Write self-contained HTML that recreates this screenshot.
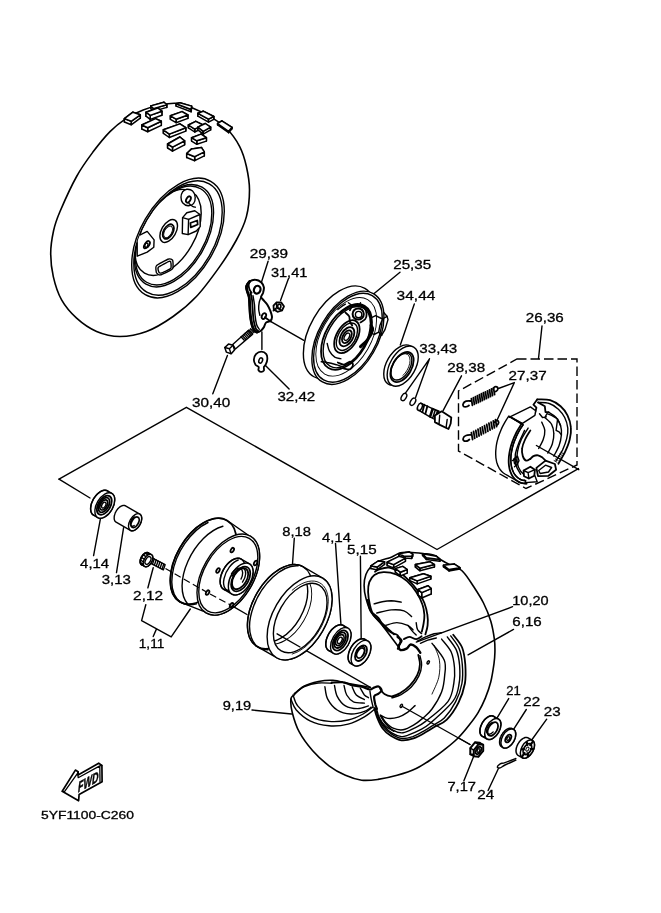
<!DOCTYPE html>
<html><head><meta charset="utf-8">
<style>
html,body{margin:0;padding:0;background:#fff;}
body{width:661px;height:913px;overflow:hidden;font-family:"Liberation Sans",sans-serif;}
svg{display:block;will-change:transform;}
.l{fill:none;stroke:#000;stroke-width:1.4;stroke-linecap:round;stroke-linejoin:round;}
.t{fill:none;stroke:#000;stroke-width:0.9;stroke-linecap:round;stroke-linejoin:round;}
.h{fill:none;stroke:#000;stroke-width:1.8;stroke-linecap:round;stroke-linejoin:round;}
.w{fill:#fff;stroke:#000;stroke-width:1.4;stroke-linecap:round;stroke-linejoin:round;}
.wb{fill:#fff;stroke:#000;stroke-width:1.5;stroke-linejoin:round;}
.wt{fill:#fff;stroke:#000;stroke-width:0.9;stroke-linejoin:round;}
.k{fill:#000;stroke:none;}
.f{fill:#fff;stroke:none;}
text{font-family:"Liberation Sans",sans-serif;font-size:13px;fill:#000;stroke:#000;stroke-width:0.3;}
</style></head><body>
<svg width="661" height="913" viewBox="0 0 661 913">
<rect width="661" height="913" fill="#fff"/>

<!-- ===== LABELS ===== -->
<g id="labels">
<text x="249.7" y="257.5" textLength="38.3" lengthAdjust="spacingAndGlyphs">29,39</text>
<text x="270.9" y="276.7" textLength="36.5" lengthAdjust="spacingAndGlyphs">31,41</text>
<text x="393.2" y="269.3" textLength="38" lengthAdjust="spacingAndGlyphs">25,35</text>
<text x="396.6" y="300" textLength="38.8" lengthAdjust="spacingAndGlyphs">34,44</text>
<text x="419.3" y="352.7" textLength="38" lengthAdjust="spacingAndGlyphs">33,43</text>
<text x="525.8" y="322.4" textLength="38" lengthAdjust="spacingAndGlyphs">26,36</text>
<text x="447.2" y="372" textLength="38" lengthAdjust="spacingAndGlyphs">28,38</text>
<text x="508.6" y="380.2" textLength="38" lengthAdjust="spacingAndGlyphs">27,37</text>
<text x="192.1" y="407.1" textLength="38.2" lengthAdjust="spacingAndGlyphs">30,40</text>
<text x="277.4" y="400.8" textLength="37.8" lengthAdjust="spacingAndGlyphs">32,42</text>
<text x="80.1" y="567.7" textLength="29" lengthAdjust="spacingAndGlyphs">4,14</text>
<text x="101.7" y="583.5" textLength="29.3" lengthAdjust="spacingAndGlyphs">3,13</text>
<text x="133.1" y="600.1" textLength="30" lengthAdjust="spacingAndGlyphs">2,12</text>
<text x="138.8" y="647.7" textLength="25.5" lengthAdjust="spacingAndGlyphs">1,11</text>
<text x="282.2" y="535.9" textLength="28.8" lengthAdjust="spacingAndGlyphs">8,18</text>
<text x="322.1" y="541.9" textLength="28.8" lengthAdjust="spacingAndGlyphs">4,14</text>
<text x="347" y="553.7" textLength="29.6" lengthAdjust="spacingAndGlyphs">5,15</text>
<text x="512.3" y="604.9" textLength="36.3" lengthAdjust="spacingAndGlyphs">10,20</text>
<text x="512.3" y="626" textLength="29.5" lengthAdjust="spacingAndGlyphs">6,16</text>
<text x="222.7" y="709.7" textLength="28.5" lengthAdjust="spacingAndGlyphs">9,19</text>
<text x="506.3" y="695" textLength="14.5" lengthAdjust="spacingAndGlyphs">21</text>
<text x="523.2" y="705.9" textLength="16.9" lengthAdjust="spacingAndGlyphs">22</text>
<text x="543.8" y="715.6" textLength="16.9" lengthAdjust="spacingAndGlyphs">23</text>
<text x="447.4" y="791.2" textLength="28.6" lengthAdjust="spacingAndGlyphs">7,17</text>
<text x="477.2" y="799.4" textLength="16.9" lengthAdjust="spacingAndGlyphs">24</text>
<text x="41" y="819" textLength="93" lengthAdjust="spacingAndGlyphs" style="font-size:11.5px">5YF1100-C260</text>
</g>

<!-- ===== LEADERS ===== -->
<g id="leaders" class="l">
<path d="M59,479.2 L186.4,407.3 L437,549.5 L578.4,468.6"/>
<path d="M59,479.2 L90,498"/>
</g>
<!-- ===== TOP TIRE ===== -->
<g id="tire-top">
<path class="l" style="stroke-width:1.6" d="M60,211.5C63.9,202.4 71,186.5 76.6,176.5C82.1,166.5 87.7,159.1 93.3,151.6C98.9,144.1 104.7,137 110,131.6C115.3,126.2 119.4,122.9 124.9,119.3C130.4,115.7 137.4,112.4 143.2,110C149,107.6 154.2,106.1 159.8,105C165.4,103.9 170.9,102.8 176.5,103.3C182.1,103.8 187.5,106.1 193.1,108.3C198.7,110.5 204.2,113.3 209.8,116.6C215.4,119.9 221.4,123.3 226.4,128.3C231.4,133.3 236.4,140.2 239.7,146.6C243,153 244.8,159.3 246.4,166.5C248,173.7 249.5,181.5 249.5,189.8C249.5,198.2 248.6,208.2 246.4,216.6C244.2,225 240.9,231.7 236.4,240C231.9,248.3 226.4,257.2 219.7,266.6C213,276 204.2,288.2 196.4,296.5C188.6,304.8 181.4,310.7 173.1,316.5C164.8,322.3 155.4,328.2 146.5,331.5C137.6,334.8 128.2,336.5 119.9,336.5C111.6,336.5 103.8,334.6 96.6,331.5C89.4,328.4 82.4,323.5 76.6,318.2C70.8,312.9 65.5,306.8 61.6,299.9C57.7,293 55.1,284.4 53.3,276.6C51.5,268.8 50.7,260.9 50.7,253.3C50.7,245.7 52,238 53.5,231C55,224 56.1,220.6 60,211.5Z"/>
<path class="wb" d="M132.9,112.2L140.3,114.8L140.3,118.2L132.9,115.7Z"/><path class="wb" d="M124.4,118.6L132.9,112.2L132.9,115.7L124.4,122Z"/><path class="wb" d="M140.3,114.8L131.2,121.3L131.2,124.8L140.3,118.2Z"/><path class="wb" d="M131.2,121.3L124.4,118.6L124.4,122L131.2,124.8Z"/><path class="wb" d="M124.4,118.6L132.9,112.2L140.3,114.8L131.2,121.3Z"/>
<path class="wb" d="M164,102.3L166.8,104.8L166.8,107.4L164,104.9Z"/><path class="wb" d="M150.9,105.9L164,102.3L164,104.9L150.9,108.5Z"/><path class="wb" d="M166.8,104.8L153.4,108.6L153.4,111.2L166.8,107.4Z"/><path class="wb" d="M153.4,108.6L150.9,105.9L150.9,108.5L153.4,111.2Z"/><path class="wb" d="M150.9,105.9L164,102.3L166.8,104.8L153.4,108.6Z"/>
<path class="wb" d="M157.7,108L161.9,111.2L161.9,115.2L157.7,112Z"/><path class="wb" d="M146,112.2L157.7,108L157.7,112L146,116.2Z"/><path class="wb" d="M161.9,111.2L150.2,115.4L150.2,119.4L161.9,115.2Z"/><path class="wb" d="M150.2,115.4L146,112.2L146,116.2L150.2,119.4Z"/><path class="wb" d="M146,112.2L157.7,108L161.9,111.2L150.2,115.4Z"/>
<path class="wb" d="M155.5,118.6L161.3,121.3L161.3,125.4L155.5,122.6Z"/><path class="wb" d="M141.8,125L155.5,118.6L155.5,122.6L141.8,129Z"/><path class="wb" d="M161.3,121.3L147.7,127.7L147.7,131.7L161.3,125.4Z"/><path class="wb" d="M147.7,127.7L141.8,125L141.8,129L147.7,131.7Z"/><path class="wb" d="M141.8,125L155.5,118.6L161.3,121.3L147.7,127.7Z"/>
<path class="wb" d="M176.1,103.8L179.9,102.7L179.9,105L176.1,106.1Z"/><path class="wb" d="M179.9,102.7L191.6,106.1L191.6,108.4L179.9,105Z"/><path class="wb" d="M191.1,109.5L176.1,103.8L176.1,106.1L191.1,111.8Z"/><path class="wb" d="M191.6,106.1L191.1,109.5L191.1,111.8L191.6,108.4Z"/><path class="wb" d="M176.1,103.8L179.9,102.7L191.6,106.1L191.1,109.5Z"/>
<path class="wb" d="M182,111.6L187.9,115L187.9,118.4L182,115Z"/><path class="wb" d="M170.4,115.8L182,111.6L182,115L170.4,119.3Z"/><path class="wb" d="M187.9,115L176.1,119.2L176.1,122.7L187.9,118.4Z"/><path class="wb" d="M176.1,119.2L170.4,115.8L170.4,119.3L176.1,122.7Z"/><path class="wb" d="M170.4,115.8L182,111.6L187.9,115L176.1,119.2Z"/>
<path class="wb" d="M179.9,123.9L185.8,127.7L185.8,131.1L179.9,127.3Z"/><path class="wb" d="M163.4,129.8L179.9,123.9L179.9,127.3L163.4,133.3Z"/><path class="wb" d="M185.8,127.7L169.3,134.1L169.3,137.5L185.8,131.1Z"/><path class="wb" d="M169.3,134.1L163.4,129.8L163.4,133.3L169.3,137.5Z"/><path class="wb" d="M163.4,129.8L179.9,123.9L185.8,127.7L169.3,134.1Z"/>
<path class="wb" d="M179.9,137L184.6,140.8L184.6,144.8L179.9,141Z"/><path class="wb" d="M167.6,144L179.9,137L179.9,141L167.6,148Z"/><path class="wb" d="M184.6,140.8L172.5,147.2L172.5,151.2L184.6,144.8Z"/><path class="wb" d="M172.5,147.2L167.6,144L167.6,148L172.5,151.2Z"/><path class="wb" d="M167.6,144L179.9,137L184.6,140.8L172.5,147.2Z"/>
<path class="wb" d="M197.9,113.3L203.2,111.2L203.2,114L197.9,116.2Z"/><path class="wb" d="M203.2,111.2L213.8,116.5L213.8,119.3L203.2,114Z"/><path class="wb" d="M208.5,119.2L197.9,113.3L197.9,116.2L208.5,122.1Z"/><path class="wb" d="M213.8,116.5L208.5,119.2L208.5,122.1L213.8,119.3Z"/><path class="wb" d="M197.9,113.3L203.2,111.2L213.8,116.5L208.5,119.2Z"/>
<path class="wb" d="M188.4,125L195.8,121.3L195.8,124.2L188.4,127.8Z"/><path class="wb" d="M195.8,121.3L203.2,125L203.2,127.8L195.8,124.2Z"/><path class="wb" d="M203.2,125L194.7,129.2L194.7,132L203.2,127.8Z"/><path class="wb" d="M194.7,129.2L188.4,125L188.4,127.8L194.7,132Z"/><path class="wb" d="M188.4,125L195.8,121.3L203.2,125L194.7,129.2Z"/>
<path class="wb" d="M197.9,127.1L205.3,123.5L205.3,126.3L197.9,129.9Z"/><path class="wb" d="M205.3,123.5L210.6,127.1L210.6,129.9L205.3,126.3Z"/><path class="wb" d="M210.6,127.1L203.2,131.3L203.2,134.2L210.6,129.9Z"/><path class="wb" d="M203.2,131.3L197.9,127.1L197.9,129.9L203.2,134.2Z"/><path class="wb" d="M197.9,127.1L205.3,123.5L210.6,127.1L203.2,131.3Z"/>
<path class="wb" d="M191.6,137.7L201.1,134.1L201.1,137.5L191.6,141.1Z"/><path class="wb" d="M201.1,134.1L206.4,137.7L206.4,141.1L201.1,137.5Z"/><path class="wb" d="M206.4,137.7L196.8,140.8L196.8,144.3L206.4,141.1Z"/><path class="wb" d="M196.8,140.8L191.6,137.7L191.6,141.1L196.8,144.3Z"/><path class="wb" d="M191.6,137.7L201.1,134.1L206.4,137.7L196.8,140.8Z"/>
<path class="wb" d="M191.6,148.9L201.5,147.6L201.5,151.6L191.6,152.9Z"/><path class="wb" d="M201.5,147.6L204.3,151.9L204.3,155.9L201.5,151.6Z"/><path class="wb" d="M186.7,153.5L191.6,148.9L191.6,152.9L186.7,157.5Z"/><path class="wb" d="M204.3,151.9L194.7,156.7L194.7,160.7L204.3,155.9Z"/><path class="wb" d="M194.7,156.7L186.7,153.5L186.7,157.5L194.7,160.7Z"/><path class="wb" d="M186.7,153.5L191.6,148.9L201.5,147.6L204.3,151.9L194.7,156.7Z"/>
<path class="wb" d="M217.6,123.5L221.8,120.9L221.8,122.4L217.6,124.9Z"/><path class="wb" d="M221.8,120.9L232,127.3L232,128.7L221.8,122.4Z"/><path class="wb" d="M228.6,131.3L217.6,123.5L217.6,124.9L228.6,132.7Z"/><path class="wb" d="M232,127.3L228.6,131.3L228.6,132.7L232,128.7Z"/><path class="wb" d="M217.6,123.5L221.8,120.9L232,127.3L228.6,131.3Z"/>
<clipPath id="rimclip"><ellipse cx="178" cy="238" rx="62.5" ry="36" transform="rotate(-60 178 238)"/></clipPath>
<ellipse class="l" cx="178" cy="238" rx="65.5" ry="37.8" transform="rotate(-60 178 238)"/>
<ellipse class="l" cx="178" cy="238" rx="62.5" ry="36.1" transform="rotate(-60 178 238)"/>
<g clip-path="url(#rimclip)">
<ellipse class="l" cx="174" cy="235.7" rx="56" ry="32.3" transform="rotate(-60 174 235.7)"/>
<ellipse class="l" cx="173.6" cy="235.5" rx="54" ry="31.2" transform="rotate(-60 173.6 235.5)"/>
<ellipse class="l" cx="168" cy="232.4" rx="47" ry="27.1" transform="rotate(-60 168 232.4)"/>
</g>
<ellipse class="l" cx="168.7" cy="231" rx="12.5" ry="7.2" transform="rotate(-60 168.7 231)"/>
<ellipse class="h" cx="168.3" cy="231.6" rx="8" ry="4.6" transform="rotate(-60 168.3 231.6)"/>
<ellipse class="t" cx="168.1" cy="231.9" rx="6.3" ry="3.6" transform="rotate(-60 168.1 231.9)"/>
<path class="w" d="M182.6,191.8C183.6,190.5 185.1,189.4 186.8,189.2C188.5,189.1 191.2,189.5 192.6,190.9C194,192.2 195,195.1 195.2,197.2C195.3,199.4 194.7,202.2 193.5,203.6C192.3,205 189.9,205.9 188.1,205.8C186.3,205.6 183.8,204.1 182.6,202.7C181.5,201.3 181,199 181,197.2C181,195.4 181.7,193.1 182.6,191.8Z"/>
<ellipse class="h" cx="188.4" cy="199.5" rx="3.4" ry="2" transform="rotate(-60 188.4 199.5)"/>
<path class="l" d="M189,203.6C189.6,204 191.6,205.7 192.6,206.3C193.7,206.9 194.9,207.1 195.3,207.2"/>
<path class="w" d="M182.6,217.6L186.8,212.7L194.8,210.7L199.9,214.5L200.2,226.6L196.3,231L188.1,234.6L182.3,233.5Z"/>
<path class="l" d="M182.6,217.6L188.6,219.4L199.9,214.5"/>
<path class="l" d="M188.6,219.4L188.1,234.6"/>
<path class="h" d="M190.4,223L197.3,220.5L197.7,224.5L190.8,227.4Z"/>
<g clip-path="url(#rimclip)"><path class="w" d="M137.2,236.3L147.2,231.4L154.1,239.9L153.8,247.2L147.2,252.1L137.2,256.2Z"/>
<ellipse class="h" cx="147.3" cy="244.3" rx="3.6" ry="2.1" transform="rotate(-60 147.3 244.3)"/>
<ellipse class="l" cx="145.8" cy="245.8" rx="3" ry="1.7" transform="rotate(-60 145.8 245.8)"/>
</g>
<path class="w" d="M156.3,265.9C157.3,264.7 167.3,259.4 168.7,259C170,258.5 172.3,259.6 172.7,260.4C173,261.2 173.5,267.7 172.5,268.9C171.4,270.2 161.6,274.6 160.3,274.9C159,275.3 156.8,273.5 156.5,272.8C156.2,272 155.3,267 156.3,265.9Z"/>
<path class="l" d="M158.5,267.1C159.4,266.3 168,261.7 169,261.3C170,260.9 170.7,261.6 170.8,262.2C171,262.8 171.5,267.7 170.7,268.6C169.8,269.5 162,272.9 161,273.1C160,273.4 158.9,272.2 158.7,271.7C158.5,271.2 157.6,268 158.5,267.1Z"/>
</g>
<!-- ===== LEVER GROUP ===== -->
<g id="lever">
<path class="l" d="M268.1,261.2L261.2,283 M288.4,278.7L280.5,300.5 M270.5,321.4L303.8,340.3 M261.9,332L261.9,349.4 M227.4,355.5L212.8,393.8 M265.2,365.3L289.1,388.9"/>
<path class="w" d="M232.7,344.4L248.6,330.2L252.7,334.1L235.4,349Z"/>
<path class="l" d="M241,336.7L244.3,340.3"/><path class="l" d="M242.4,335.6L245.7,339.2"/><path class="l" d="M243.7,334.4L247.1,338.1"/><path class="l" d="M245.1,333.3L248.4,336.9"/><path class="l" d="M246.5,332.2L249.8,335.8"/><path class="l" d="M247.8,331L251.1,334.7"/><path class="l" d="M249.2,329.9L252.5,333.5"/><path class="l" d="M250.5,328.8L253.9,332.4"/>
<path class="wb" d="M224.8,347.5L228.5,344.1L233,345.2L234.5,349.9L231.2,353.7L226.3,352.1Z"/>
<path class="l" d="M224.8,347.5L229.4,348.7L233,345.2 M229.4,348.7L230.9,353.5"/>
<path class="wb" style="stroke-width:2" d="M246.3,286.3C246.7,284.7 248.1,282.6 249.6,281.5C251.1,280.4 253.4,279.5 255.4,279.7C257.4,279.8 260,281.1 261.4,282.4C262.8,283.7 263.6,285.6 263.9,287.4C264.1,289.2 263.4,291.4 263,293C262.5,294.6 261.1,295.8 261.1,296.9C261.2,298.1 262.2,298.7 263.3,300C264.3,301.2 266,302.7 267.2,304.5C268.3,306.3 269.4,308.4 270.2,310.5C271,312.7 272,315.4 272,317.2C272,319 271.2,320.2 270.2,321.1C269.2,322 267,321.6 266,322.6C264.9,323.7 264.7,325.8 263.9,327.2C263,328.5 262,330 260.8,330.8C259.7,331.6 258.1,332.3 256.9,332.2C255.7,332 254.7,331.2 253.9,329.9C253,328.6 252.4,326.9 251.8,324.5C251.1,322 250.6,318.4 250.2,315.4C249.9,312.4 249.8,309.3 249.6,306.3C249.4,303.3 249.4,299.7 249,297.2C248.6,294.8 247.7,293.3 247.2,291.5C246.8,289.7 245.9,288 246.3,286.3Z"/>
<path class="h" d="M250.5,292.7C250.8,294 251.7,297.5 252.1,300.3C252.4,303 252.4,306.1 252.7,309.3C252.9,312.6 253.1,316.8 253.6,319.9C254.1,323.1 254.9,326.4 255.7,328.2C256.4,330.1 257.7,330.4 258.1,330.8"/>
<path class="l" d="M253,295.7C253.2,297.2 254.1,301.5 254.5,304.8C254.8,308.1 254.7,312.1 255.1,315.4C255.4,318.7 255.9,322.1 256.6,324.5C257.3,326.8 258.9,328.5 259.3,329.3"/>
<path class="l" d="M261.1,296.9C260.8,297.9 259.6,300.5 259.2,302.5C258.8,304.6 258.6,307.2 258.7,309.3C258.8,311.5 259.7,314.4 259.9,315.4"/>
<path d="M249.6,281.5C249.1,282.3 247,284.7 246.6,286.3C246.2,288 246.9,289.7 247.4,291.5C247.8,293.3 248.8,294.8 249.2,297.2C249.6,299.7 249.6,303.3 249.8,306.3C250,309.3 250,312.4 250.4,315.4C250.7,318.4 251.3,322 251.9,324.5C252.5,326.9 253.2,328.6 254,329.9C254.9,331.2 256.4,331.8 256.9,332.2" fill="none" stroke="#000" stroke-width="2.8" stroke-linecap="round"/>
<ellipse cx="257.2" cy="289.7" rx="3.2" ry="4" fill="#fff" stroke="#000" stroke-width="2.2" transform="rotate(20 257.2 289.7)"/>
<path class="h" d="M249.6,281.5C249.5,282.1 248.6,283.8 248.6,285.1C248.6,286.5 249.1,288.4 249.6,289.7C250.1,290.9 251.3,292.2 251.6,292.7"/>
<ellipse cx="263.9" cy="316.1" rx="2" ry="3" fill="#fff" stroke="#000" stroke-width="1.8" transform="rotate(25 263.9 316.1)"/>
<path class="h" d="M264.8,317.2L270.8,321.4"/>
<path class="wb" style="stroke-width:1.8" d="M253.9,359.6C253.9,358.1 255,355.2 256,354.1C257,353.1 260.1,351.7 261.4,351.7C262.8,351.7 265.5,353.1 266.3,354.1C267.1,355.1 267.4,357.9 267.3,359.3C267.3,360.6 266.3,363.4 265.8,364.4C265.4,365.5 264.1,366.3 263.9,367.1C263.6,367.9 264.3,369.8 263.9,370.5C263.5,371.1 261.6,371.9 260.8,371.8C260.1,371.8 258.7,370.6 258.4,370C258.1,369.4 259.1,367.7 258.7,367C258.3,366.3 256.2,365.7 255.5,364.7C254.9,363.7 253.8,361 253.9,359.6Z"/>
<ellipse cx="260.7" cy="360.5" rx="1.8" ry="2.7" fill="#fff" stroke="#000" stroke-width="1.5" transform="rotate(20 260.7 360.5)"/>
<path class="wb" style="stroke-width:1.8" d="M273.5,305.7L276.6,302.4L281.1,302.4L284,306.3L282,310.5L277.5,311.8L273.8,309.6Z"/>
<ellipse cx="279.3" cy="306.3" rx="1.6" ry="2.2" fill="#fff" stroke="#000" stroke-width="1.6"/>
<path class="l" d="M273.8,309.6L276.6,307.8L276.6,302.4 M276.6,307.8L282,310.5"/>
<path class="l" d="M273.2,310.8L276,309.6"/>
</g>
<!-- ===== BACKING PLATE / SEAL / CAM ===== -->
<g id="plate">
<path class="l" d="M400,272.2L372,295.2 M414.3,304L400.3,345 M429.5,358.8L405.6,392.9 M429.5,358.8L415.6,397.6 M461.5,375.8L443.1,410.6"/>
<ellipse class="w" cx="339.4" cy="332.6" rx="51" ry="29.4" transform="rotate(-60 339.4 332.6)"/>
<path class="w" d="M381.7,310.3L387,316.3L388,319.6L385,329.6L381.7,335.2L377.5,337.2L371.1,340.5Z"/>
<ellipse class="w" cx="347.9" cy="337.8" rx="51" ry="29.4" transform="rotate(-60 347.9 337.8)"/>
<ellipse class="l" cx="347.9" cy="337.8" rx="48.6" ry="28" transform="rotate(-60 347.9 337.8)"/>
<path class="w" d="M371.1,317.8L375.6,315.6L382.5,319L379.9,325.4L378.7,332.2L374.1,334.5L370.3,332.2Z"/>
<path class="l" d="M382.5,319L387,316.3 M378.7,332.2L381.7,335.2"/>
<ellipse class="t" cx="346.2" cy="336.8" rx="43" ry="24.8" transform="rotate(-60 346.2 336.8)"/>
<ellipse class="h" cx="346.5" cy="336.9" rx="36" ry="20.8" transform="rotate(-60 346.5 336.9)"/>
<ellipse class="l" cx="346.8" cy="337.2" rx="33.5" ry="19.3" transform="rotate(-60 346.8 337.2)"/>
<path class="h" d="M340.2,313.1A35,20.2 -60 0 1 370.5,330.6"/>
<path d="M360.5,346.6C361.8,345.3 366.1,341.8 368.1,339C370.1,336.2 372.1,332.2 372.6,329.9C373.1,327.7 371.4,326.1 371.1,325.4" fill="none" stroke="#000" stroke-width="3" stroke-linecap="round"/>
<ellipse class="h" cx="346.9" cy="336.7" rx="18" ry="10.4" transform="rotate(-60 346.9 336.7)"/>
<ellipse class="l" cx="346.9" cy="336.7" rx="15" ry="8.7" transform="rotate(-60 346.9 336.7)"/>
<ellipse class="h" cx="346.9" cy="336.7" rx="10.5" ry="6.1" transform="rotate(-60 346.9 336.7)"/>
<ellipse class="h" cx="346.9" cy="336.7" rx="7" ry="4" transform="rotate(-60 346.9 336.7)"/>
<ellipse class="l" cx="346.9" cy="336.7" rx="4" ry="2.3" transform="rotate(-60 346.9 336.7)"/>
<circle cx="358.2" cy="314" r="5.6" class="wb" style="stroke-width:2"/>
<circle cx="358.6" cy="314.6" r="3.2" class="l"/>
<path class="h" d="M349.9,310.3C350.3,309.6 350.8,307.4 352.2,306.5C353.6,305.6 356.2,304.7 358.2,305C360.3,305.2 362.9,306.5 364.3,308C365.7,309.5 366.4,312.1 366.6,314C366.7,315.9 366.1,317.9 365.1,319.3C364,320.7 361.3,321.9 360.5,322.4"/>
<path class="h" d="M345.4,312.5C346,313.2 348.4,314.8 349.2,316.3C349.9,317.8 349.4,320.1 349.9,321.6C350.4,323.1 351.8,324.8 352.2,325.4"/>
<path class="h" d="M337.8,362.5C338.8,362.8 341.9,364.8 343.9,364.7C345.9,364.6 348.4,361.7 349.9,361.7C351.4,361.7 353,363.5 353,364.7C353,366 351.4,368.6 349.9,369.3C348.4,369.9 344.9,368.6 343.9,368.5"/>
<path class="l" d="M321.2,361.7C322.2,361.8 324.7,361.9 327.2,362.5C329.8,363 333.7,364 336.3,364.7C339,365.5 342,366.6 343.1,367"/>
<path class="l" d="M327.2,343.5C327.6,344.8 328.2,348.8 329.5,351.1C330.8,353.4 332.9,355.9 334.8,357.2C336.7,358.4 339.8,358.4 340.8,358.7"/>
<path class="l" d="M337.8,309.5C338.3,309.1 339.6,308.1 340.8,307.2C342.1,306.3 344.6,304.7 345.4,304.2 M359.8,304.2L360.5,302.7 M348.4,302.7L351.4,305"/>
<ellipse class="w" cx="399.3" cy="365" rx="22" ry="12.7" transform="rotate(-60 399.3 365)"/>
<ellipse class="w" cx="402.7" cy="366.1" rx="22" ry="12.7" transform="rotate(-60 402.7 366.1)"/>
<ellipse class="h" cx="402" cy="367" rx="16.5" ry="9.5" transform="rotate(-60 402 367)"/>
<ellipse class="l" cx="401.4" cy="366.5" rx="14.8" ry="8.5" transform="rotate(-60 401.4 366.5)"/>
<path class="t" d="M391.3,368.5A13.6,7.8 -60 1 1 403.1,375.3"/>
<ellipse class="l" cx="403.9" cy="397" rx="4" ry="2.3" transform="rotate(-60 403.9 397)"/>
<ellipse class="l" cx="412.9" cy="401.7" rx="4" ry="2.3" transform="rotate(-60 412.9 401.7)"/>
<path class="w" d="M420.6,403.1L433.6,409.2L430.8,417.4L419.3,410.6Z"/>
<ellipse cx="419.9" cy="406.9" rx="2.2" ry="3.8" class="wb" transform="rotate(25 419.9 406.9)"/>
<path class="h" d="M424.3,404.7L422.4,412.1 M427.4,406.1L425.4,413.7"/>
<path d="M432.2,408.5L439,411.3L436.3,420.1L429.5,416.7Z" fill="#000" stroke="#000" stroke-width="1.5" stroke-linejoin="round"/>
<path class="t" style="stroke:#fff" d="M433.8,410.7L431.9,416.7 M436,411.5L434.1,417.8"/>
<path class="wb" style="stroke-width:1.8" d="M434.9,415.6L441.7,411.3L451.3,417.4L450.7,423.5L448.5,429L440.4,425.1L434.9,422.1Z"/>
<path class="l" d="M439.7,415.3L439,424.2 M447.2,419.4L446.1,427.6"/>
</g>
<!-- ===== BRAKE SHOES ===== -->
<g id="shoes">
<path d="M517,359L577,359L577,465L526,488.5L458.5,451L458.5,391Z" fill="none" stroke="#000" stroke-width="1.4" stroke-dasharray="9.5 4"/>
<path class="l" d="M542,326L538.5,358.5 M514.3,382.6L498.4,388.5 M514.3,382.6L496.8,420.8"/>
<path class="h" d="M472.4,405.4L471.4,398.6M474.4,404.4L473.4,397.6M476.4,403.4L475.4,396.6M478.5,402.5L477.4,395.6M480.5,401.5L479.4,394.7M482.5,400.5L481.4,393.7M484.5,399.5L483.4,392.7M486.5,398.6L485.4,391.8M488.5,397.6L487.5,390.8M490.5,396.6L489.5,389.8M492.5,395.7L491.5,388.8M494.6,394.7L493.5,387.9"/>
<path class="h" d="M472.6,439.5L471.4,432.6M474.7,438.3L473.6,431.5M476.9,437.2L475.8,430.3M479.1,436L478,429.1M481.3,434.8L480.2,427.9M483.5,433.6L482.3,426.8M485.7,432.5L484.5,425.6M487.9,431.3L486.7,424.4M490.1,430.1L488.9,423.2M492.3,428.9L491.1,422.1M494.4,427.8L493.3,420.9M496.6,426.6L495.5,419.7"/>
<path class="h" d="M470.9,401C470.1,401 467.4,400.8 466.1,401.2C464.8,401.6 463.7,402.7 463.3,403.5C462.8,404.4 462.9,405.7 463.5,406.3C464,406.8 465.5,406.8 466.4,406.7C467.4,406.5 468.6,405.6 469,405.4"/>
<path class="h" d="M493.1,389C493.4,388.6 494,387 494.7,386.8C495.5,386.5 497.1,386.9 497.6,387.4C498,388 497.7,389.4 497.4,390.1C497,390.8 495.8,391.4 495.5,391.6"/>
<path class="h" d="M470.9,434.9C470.1,435 467.4,435 466.1,435.5C464.8,436 463.6,437.1 463.3,438C462.9,438.9 463.3,440.3 463.9,440.8C464.5,441.3 466.2,441.2 467.1,441C468,440.8 469,439.8 469.4,439.5"/>
<path class="h" d="M494.7,422.4C494.9,422 495.5,420.6 496.1,420.5C496.7,420.3 498.1,420.9 498.4,421.5C498.8,422.1 498.5,423.3 498.2,423.9C497.9,424.6 496.8,425.1 496.5,425.3"/>
<path class="f" d="M537.2,399.4C539.3,399.5 546.1,399 550.1,400.1C554,401.3 557.7,403.7 560.6,406.2C563.5,408.7 565.7,411.7 567.5,415.3C569.2,418.8 570.6,423.3 570.9,427.4C571.3,431.4 570.7,435.4 569.7,439.5C568.8,443.5 567.1,447.5 565.2,451.6C563.3,455.6 559.5,461.7 558.4,463.7L551.6,456.1L534.9,407.7Z"/>
<path class="h" d="M537.2,399.4C539.3,399.5 546.1,399 550.1,400.1C554,401.3 557.7,403.7 560.6,406.2C563.5,408.7 565.7,411.7 567.5,415.3C569.2,418.8 570.6,423.3 570.9,427.4C571.3,431.4 570.7,435.4 569.7,439.5C568.8,443.5 567.1,447.5 565.2,451.6C563.3,455.6 559.5,461.7 558.4,463.7"/>
<path class="l" d="M538,402.4C539.8,402.6 545.9,402.3 549.3,403.5C552.7,404.6 555.8,406.9 558.4,409.2C560.9,411.6 563.2,414.4 564.7,417.5C566.3,420.7 567.4,424.6 567.8,428.1C568.1,431.6 567.6,435.1 566.7,438.7C565.8,442.4 564.2,446.4 562.5,450.1C560.7,453.7 557.2,458.9 556.1,460.6"/>
<path class="l" d="M548.5,412.2C549.8,413.1 554.1,415.3 556.1,417.5C558.1,419.8 559.8,422.9 560.6,425.8C561.5,428.7 561.7,431.6 561.4,434.9C561.1,438.2 560.4,442 559.1,445.5C557.9,449 554.7,454.3 553.8,456.1"/>
<path class="l" d="M544.8,417.5C545.9,418.7 550.1,421.7 551.6,424.3C553.1,427 553.7,430.1 553.8,433.4C554,436.7 553.3,440.7 552.3,444C551.3,447.3 548.5,451.6 547.8,453.1"/>
<path class="l" d="M541.7,422.1C542.2,423.5 544.5,427.5 544.8,430.4C545,433.3 544.3,436.4 543.2,439.5C542.2,442.5 539.5,447 538.7,448.5"/>
<path class="h" d="M537.2,399.4L533.4,404.7L536.4,407.7L534.9,413.7 M538,402.4L544.8,406.2L545.5,412.2L548.5,412.2"/>
<path class="l" d="M551.6,415.3L557.6,419L560.6,425.8 M557.6,419L556.1,430.4L559.1,431.9L561.4,434.9"/>
<path class="l" d="M544.8,417.5L547,413.7L551.6,415.3 M539.5,413.7L542.5,417.5L546.3,416.8"/>
<path class="t" d="M563.7,453.8L560.9,452.3"/><path class="t" d="M562.3,455.5L559.6,454"/><path class="t" d="M560.9,457.2L558.2,455.7"/><path class="t" d="M559.6,458.8L556.9,457.3"/><path class="t" d="M558.2,460.5L555.5,459"/><path class="t" d="M556.9,462.2L554.1,460.6"/>
<path class="w" d="M508.8,416.1L507.5,418L506.3,419.9L505.1,421.8L504,423.8L502.9,425.9L501.9,427.9L501,430L500.2,432L499.4,434.1L498.6,436.2L498,438.3L497.4,440.4L496.9,442.4L496.5,444.5L496.2,446.5L496,448.5L495.8,450.4L495.7,452.4L495.7,454.2L495.8,456L495.9,457.8L496.2,459.5L496.5,461.2L496.9,462.7L497.4,464.2L497.9,465.7L498.6,467L499.3,468.3L500.1,469.5L500.9,470.5L501.8,471.5L502.8,472.5L503.9,473.3L505,474L518,481.5L519.1,482L520.2,482.5L521.4,482.9L522.6,483.2L523.9,483.4L525.2,483.5L526.5,483.6L524.6,480L525.6,480.8L524.4,480.6L523.1,480.3L521.9,480L520.7,479.5L519.6,479L518.6,478.3L517.6,477.6L516.7,476.7L515.8,475.8L515,474.8L514.2,473.7L513.6,472.5L513,471.2L512.4,469.9L512,468.5L511.6,467L511.3,465.5L511.1,463.9L510.9,462.3L510.8,460.6L510.8,458.8L510.9,457L511,455.2L511.3,453.3L511.6,451.4L512,449.5L512.4,447.6L512.9,445.7L513.5,443.7L514.2,441.8L515,439.8L515.8,437.9L516.6,435.9L517.6,434L518.5,432.1L519.6,430.2L520.7,428.4L521.9,426.6L523.1,424.8Z"/>
<path class="h" d="M526.5,483.6L525.1,483.5L523.7,483.4L522.3,483.1L521,482.8L519.7,482.3L518.5,481.8L517.4,481.1L516.3,480.3L515.2,479.4L514.3,478.5L513.4,477.4L512.6,476.2L511.8,475L511.2,473.6L510.6,472.2L510,470.7L509.6,469.1L509.3,467.5L509,465.8L508.8,464L508.7,462.2L508.7,460.3L508.8,458.4L508.9,456.4L509.2,454.4L509.5,452.4L509.9,450.3L510.4,448.2L510.9,446.1L511.6,444L512.3,441.9L513.1,439.8L513.9,437.7L514.9,435.6L515.9,433.5L516.9,431.4L518.1,429.4L519.3,427.4L520.5,425.5L521.8,423.6"/>
<path class="l" d="M525.6,480.8L524.4,480.6L523.1,480.3L521.9,480L520.7,479.5L519.6,479L518.6,478.3L517.6,477.6L516.7,476.7L515.8,475.8L515,474.8L514.2,473.7L513.6,472.5L513,471.2L512.4,469.9L512,468.5L511.6,467L511.3,465.5L511.1,463.9L510.9,462.3L510.8,460.6L510.8,458.8L510.9,457L511,455.2L511.3,453.3L511.6,451.4L512,449.5L512.4,447.6L512.9,445.7L513.5,443.7L514.2,441.8L515,439.8L515.8,437.9L516.6,435.9L517.6,434L518.5,432.1L519.6,430.2L520.7,428.4L521.9,426.6L523.1,424.8"/>
<path class="w" d="M510,416.8L530.4,406.9L535.7,410.7L534.9,415.3L522.1,423.6Z"/>
<path class="h" d="M510,416.8L522.1,423.6"/>
<path class="l" d="M528.1,428.1C527,430 523.1,435.6 521.3,439.5C519.5,443.4 518.2,447.8 517.5,451.6C516.8,455.3 516.6,458.9 517.1,462.2C517.6,465.4 519.1,469 520.6,471.2C522,473.5 525,475 525.8,475.8"/>
<path class="h" d="M530.4,430.4C529.5,431.9 526.5,436.4 525.1,439.5C523.7,442.5 522.4,445.8 522.1,448.5C521.7,451.3 522.1,454.1 522.8,456.1C523.5,458.1 524.9,460.2 526.1,460.6C527.4,461.1 529.7,459.1 530.4,458.8"/>
<path class="l" d="M524.6,430.4C523.7,432.4 520.6,438.5 519,442.5C517.5,446.5 515.8,450.8 515.3,454.6C514.8,458.4 515.1,461.9 516,465.2C516.9,468.5 519.8,472.7 520.6,474.3"/>
<path class="l" d="M512.2,460.6L516,459.1L517.5,463.7L514.5,466.7"/>
<path class="wb" style="stroke-width:1.8" d="M523.6,470.5L530.4,466.7L534.9,469.7L534.3,475.8L528.9,478.5L524,476.2Z"/>
<path class="l" d="M523.6,470.5L528.1,472.7L534.9,469.7 M528.1,472.7L528.9,478.5"/>
<path class="wb" style="stroke-width:1.8" d="M536.4,467.9L545.5,460.6L554.9,464L556.1,469.7L548.5,475.8L538,476.1Z"/>
<path class="l" d="M538.7,470.5L545.5,465.2L551.6,467.5L548.5,472L540.2,473.5Z"/>
<path class="h" d="M530.4,458.8C530.9,458.4 532.2,456.7 533.4,456.1C534.7,455.5 536.4,455.1 538,455.3C539.5,455.6 541.2,456.7 542.5,457.6C543.7,458.5 545,460.1 545.5,460.6"/>
<path class="l" d="M534.9,475.8L537.2,481.8L525.1,482.6"/>
<path class="l" d="M536.4,445.5L578.8,469.7"/>
<path class="l" d="M513.7,459.1L517.5,456.1L519,460.6L516.8,465.2L514.5,463.7Z"/>
</g>
<!-- ===== DRUM GROUP ===== -->
<g id="drum">
<path class="l" d="M100.4,518.8L93.6,555.6 M123.6,527.7L116.5,572.6 M153.2,567.7L147.9,587.8 M145.8,604.7L141.6,620.6L171.2,636.9L190.3,609 M156.4,629.1L153.2,636.5 M294.3,538.3L292.5,564 M335.5,543.4L341.1,627 M360.4,556.3L361.2,639.9"/>
<path class="l" d="M277.1,633.8L470,744.5"/>
<path class="w" d="M107.5,490.9L107.1,490.7L106.7,490.5L106.3,490.4L105.9,490.3L105.5,490.2L105,490.2L104.6,490.2L104.1,490.3L103.6,490.3L103.1,490.5L102.7,490.6L102.2,490.8L101.6,491L101.1,491.2L100.6,491.5L100.1,491.8L99.6,492.1L99.1,492.5L98.6,492.9L98.1,493.3L97.6,493.7L97.1,494.2L96.7,494.7L96.2,495.2L95.7,495.7L95.3,496.3L94.9,496.9L94.5,497.4L94.1,498L93.7,498.7L93.3,499.3L93,499.9L92.7,500.6L92.4,501.2L92.1,501.9L91.8,502.5L91.6,503.2L91.4,503.8L91.2,504.5L91,505.1L90.9,505.8L90.8,506.4L90.7,507L90.6,507.7L90.6,508.3L90.6,508.9L90.6,509.4L90.7,510L90.7,510.5L90.8,511.1L91,511.6L91.1,512L91.3,512.5L91.5,512.9L91.7,513.3L91.9,513.7L92.2,514L92.5,514.4L92.8,514.6L93.1,514.9L93.5,515.1L97.8,517.6L98.2,517.8L98.6,518L99,518.1L99.4,518.2L99.8,518.3L100.3,518.3L100.7,518.3L101.2,518.2L101.7,518.2L102.2,518L102.7,517.9L103.2,517.7L103.7,517.5L104.2,517.3L104.7,517L105.2,516.7L105.7,516.4L106.2,516L106.7,515.6L107.2,515.2L107.7,514.8L108.2,514.3L108.7,513.8L109.1,513.3L109.6,512.8L110,512.2L110.5,511.6L110.9,511.1L111.3,510.5L111.6,509.8L112,509.2L112.3,508.6L112.7,507.9L113,507.3L113.2,506.6L113.5,506L113.7,505.3L113.9,504.7L114.1,504L114.3,503.4L114.4,502.7L114.5,502.1L114.6,501.5L114.7,500.8L114.7,500.2L114.7,499.6L114.7,499.1L114.7,498.5L114.6,498L114.5,497.4L114.4,496.9L114.2,496.5L114,496L113.8,495.6L113.6,495.2L113.4,494.8L113.1,494.5L112.8,494.1L112.5,493.9L112.2,493.6L111.8,493.4Z"/>
<ellipse class="l" cx="100.5" cy="503" rx="14" ry="8.1" transform="rotate(-60 100.5 503)"/>
<ellipse class="w" cx="104.8" cy="505.5" rx="14" ry="8.1" transform="rotate(-60 104.8 505.5)"/>
<ellipse class="h" cx="104.3" cy="505.2" rx="10.5" ry="6.1" transform="rotate(-60 104.3 505.2)"/>
<ellipse class="h" cx="104" cy="505" rx="8" ry="4.6" transform="rotate(-60 104 505)"/>
<ellipse class="h" cx="103.8" cy="504.9" rx="5.5" ry="3.2" transform="rotate(-60 103.8 504.9)"/>
<ellipse class="l" cx="103.8" cy="505.1" rx="3.2" ry="1.8" transform="rotate(-60 103.8 505.1)"/>
<path class="w" d="M125.5,505.9L125.3,505.7L125,505.6L124.7,505.5L124.4,505.5L124.1,505.4L123.8,505.4L123.5,505.4L123.2,505.5L122.9,505.5L122.6,505.6L122.2,505.7L121.9,505.8L121.6,505.9L121.2,506.1L120.9,506.3L120.5,506.5L120.2,506.7L119.9,506.9L119.5,507.2L119.2,507.5L118.9,507.8L118.5,508.1L118.2,508.4L117.9,508.8L117.6,509.1L117.3,509.5L117,509.9L116.7,510.3L116.5,510.7L116.2,511.1L116,511.5L115.8,511.9L115.5,512.4L115.3,512.8L115.1,513.2L115,513.7L114.8,514.1L114.7,514.6L114.6,515L114.4,515.4L114.4,515.9L114.3,516.3L114.2,516.7L114.2,517.1L114.2,517.5L114.2,517.9L114.2,518.3L114.2,518.7L114.2,519.1L114.3,519.4L114.4,519.7L114.5,520.1L114.6,520.4L114.7,520.7L114.9,520.9L115.1,521.2L115.2,521.4L115.4,521.6L115.6,521.8L115.9,522L116.1,522.1L130.4,530.4L130.6,530.5L130.9,530.6L131.2,530.7L131.4,530.8L131.7,530.8L132,530.8L132.3,530.8L132.7,530.8L133,530.7L133.3,530.7L133.6,530.6L134,530.5L134.3,530.3L134.7,530.2L135,530L135.3,529.8L135.7,529.5L136,529.3L136.4,529L136.7,528.8L137,528.5L137.4,528.2L137.7,527.8L138,527.5L138.3,527.1L138.6,526.8L138.9,526.4L139.1,526L139.4,525.6L139.7,525.2L139.9,524.8L140.1,524.3L140.4,523.9L140.6,523.5L140.7,523L140.9,522.6L141.1,522.1L141.2,521.7L141.3,521.3L141.4,520.8L141.5,520.4L141.6,520L141.7,519.5L141.7,519.1L141.7,518.7L141.7,518.3L141.7,517.9L141.7,517.5L141.6,517.2L141.6,516.8L141.5,516.5L141.4,516.2L141.3,515.9L141.1,515.6L141,515.3L140.8,515.1L140.7,514.8L140.5,514.6L140.2,514.4L140,514.3L139.8,514.1Z"/>
<ellipse class="w" cx="135.1" cy="522.2" rx="9.4" ry="5.4" transform="rotate(-60 135.1 522.2)"/>
<ellipse class="h" cx="135.1" cy="522.2" rx="5.8" ry="3.3" transform="rotate(-60 135.1 522.2)"/>
<path class="l" d="M134.2,525.6A5.2,3 -60 1 1 134.8,516.9"/>
<path class="w" d="M150.1,556.9L165.1,564.7L163.3,569.9L148.8,562.4Z"/>
<path class="l" d="M154.2,559L152.6,563.9"/><path class="l" d="M156.1,560L154.5,564.9"/><path class="l" d="M158,561L156.4,565.9"/><path class="l" d="M159.9,562L158.3,566.9"/><path class="l" d="M161.8,563.1L160.2,568"/><path class="l" d="M163.7,564.1L162.1,569"/>
<path class="wb" d="M148.4,552.9L148.2,552.8L148,552.7L147.8,552.7L147.6,552.6L147.4,552.6L147.2,552.6L147,552.6L146.8,552.6L146.5,552.7L146.3,552.7L146,552.8L145.8,552.9L145.6,553L145.3,553.1L145.1,553.2L144.8,553.4L144.6,553.5L144.3,553.7L144.1,553.9L143.8,554.1L143.6,554.3L143.4,554.5L143.1,554.8L142.9,555L142.7,555.3L142.5,555.5L142.3,555.8L142.1,556.1L141.9,556.4L141.7,556.7L141.5,557L141.3,557.3L141.2,557.6L141,557.9L140.9,558.2L140.8,558.6L140.7,558.9L140.6,559.2L140.5,559.5L140.4,559.8L140.3,560.1L140.3,560.5L140.2,560.8L140.2,561.1L140.2,561.4L140.2,561.6L140.2,561.9L140.2,562.2L140.3,562.5L140.3,562.7L140.4,563L140.4,563.2L140.5,563.4L140.6,563.6L140.7,563.8L140.8,564L141,564.2L141.1,564.3L141.3,564.5L141.4,564.6L141.6,564.7L144.6,566.4L144.8,566.5L145,566.6L145.2,566.7L145.4,566.7L145.6,566.7L145.8,566.8L146,566.8L146.3,566.7L146.5,566.7L146.7,566.6L147,566.6L147.2,566.5L147.5,566.4L147.7,566.3L148,566.1L148.2,566L148.5,565.8L148.7,565.7L149,565.5L149.2,565.3L149.4,565L149.7,564.8L149.9,564.6L150.1,564.3L150.3,564.1L150.6,563.8L150.8,563.5L151,563.3L151.2,563L151.3,562.7L151.5,562.4L151.7,562.1L151.8,561.7L152,561.4L152.1,561.1L152.2,560.8L152.4,560.5L152.5,560.1L152.5,559.8L152.6,559.5L152.7,559.2L152.7,558.9L152.8,558.6L152.8,558.3L152.8,558L152.8,557.7L152.8,557.4L152.8,557.1L152.8,556.9L152.7,556.6L152.7,556.4L152.6,556.2L152.5,555.9L152.4,555.7L152.3,555.5L152.2,555.4L152.1,555.2L151.9,555L151.8,554.9L151.6,554.8L151.4,554.7Z"/>
<ellipse class="h" cx="145" cy="558.8" rx="6.8" ry="3.9" transform="rotate(-60 145 558.8)"/>
<path class="l" d="M141.1,564.3L144.1,566"/><path class="l" d="M140.3,562.5L143.3,564.2"/><path class="l" d="M140.4,560L143.4,561.8"/><path class="l" d="M141.3,557.4L144.3,559.1"/><path class="l" d="M143,554.9L146,556.7"/><path class="l" d="M145,553.2L148,555"/><path class="l" d="M147,552.6L150,554.3"/><ellipse class="w" cx="148" cy="560.5" rx="6.8" ry="3.9" transform="rotate(-60 148 560.5)"/>
<ellipse class="l" cx="148" cy="560.5" rx="4.2" ry="2.4" transform="rotate(-60 148 560.5)"/>
<path class="w" d="M229,521.8L227.8,521L226.6,520.3L225.3,519.7L224,519.2L222.6,518.8L221.2,518.5L219.7,518.3L218.2,518.3L216.6,518.4L215,518.6L213.4,518.9L211.8,519.3L210.1,519.8L208.4,520.4L206.7,521.2L205,522L203.2,523L201.5,524.1L199.8,525.2L198.1,526.5L196.4,527.8L194.7,529.3L193.1,530.8L191.5,532.4L189.9,534.1L188.3,535.8L186.8,537.7L185.4,539.6L183.9,541.5L182.6,543.5L181.3,545.6L180,547.6L178.8,549.8L177.7,551.9L176.7,554.1L175.7,556.3L174.8,558.5L174,560.7L173.2,563L172.5,565.2L172,567.4L171.5,569.6L171,571.7L170.7,573.9L170.5,576L170.3,578.1L170.3,580.1L170.3,582L170.4,584L170.6,585.8L170.9,587.6L171.3,589.3L171.8,591L172.3,592.5L173,594L173.7,595.4L174.5,596.7L175.4,597.9L176.3,599L177.4,600L178.5,600.9L179.6,601.7L180.8,602.4L182.1,602.9L204.3,611.7L205.4,612.5L206.5,613.2L207.7,613.7L209,614.2L210.3,614.6L211.6,614.8L213,615L214.4,615L215.9,615L217.4,614.8L219,614.5L220.5,614.1L222.1,613.6L223.7,613L225.3,612.3L226.9,611.5L228.5,610.6L230.2,609.6L231.8,608.5L233.4,607.3L235,606.1L236.6,604.7L238.1,603.3L239.6,601.7L241.1,600.2L242.6,598.5L244,596.8L245.4,595L246.7,593.2L248,591.3L249.3,589.4L250.4,587.4L251.6,585.4L252.6,583.3L253.6,581.3L254.5,579.2L255.4,577.1L256.2,575L256.9,572.9L257.5,570.8L258,568.8L258.5,566.7L258.9,564.7L259.2,562.6L259.4,560.7L259.6,558.7L259.6,556.8L259.6,554.9L259.5,553.1L259.3,551.4L259,549.7L258.6,548.1L258.2,546.6L257.7,545.1L257.1,543.7L256.4,542.4L255.6,541.2L254.8,540L253.9,539L252.9,538L251.9,537.2L250.8,536.4L249.7,535.8L248.4,535.3Z"/>
<ellipse class="h" cx="203.5" cy="561.2" rx="47" ry="27.1" transform="rotate(-60 203.5 561.2)"/>
<path class="l" d="M196.6,603.8A46.6,26.9 -60 0 1 208,522.5"/>
<path class="l" d="M187.9,604.2A46,26.5 -60 0 1 222.9,526.2"/>
<ellipse class="w" cx="228.3" cy="574.6" rx="44.3" ry="25.6" transform="rotate(-60 228.3 574.6)"/>
<ellipse class="l" cx="228.3" cy="574.6" rx="41.8" ry="24.1" transform="rotate(-60 228.3 574.6)"/>
<ellipse class="h" cx="232.3" cy="550.1" rx="2.5" ry="1.4" transform="rotate(-60 232.3 550.1)"/>
<ellipse class="h" cx="255.6" cy="563" rx="2.5" ry="1.4" transform="rotate(-60 255.6 563)"/>
<ellipse class="h" cx="218" cy="570.5" rx="2.5" ry="1.4" transform="rotate(-60 218 570.5)"/>
<ellipse class="h" cx="207.6" cy="592.6" rx="2.5" ry="1.4" transform="rotate(-60 207.6 592.6)"/>
<ellipse class="h" cx="231.6" cy="605.3" rx="2.5" ry="1.4" transform="rotate(-60 231.6 605.3)"/>
<path class="w" d="M241.2,559L240.8,558.8L240.3,558.6L239.8,558.4L239.3,558.3L238.7,558.3L238.2,558.2L237.6,558.2L237,558.3L236.4,558.4L235.8,558.5L235.2,558.7L234.6,558.9L233.9,559.2L233.3,559.5L232.7,559.8L232,560.2L231.4,560.6L230.8,561.1L230.1,561.6L229.5,562.1L228.9,562.6L228.3,563.2L227.7,563.8L227.1,564.5L226.5,565.1L226,565.8L225.5,566.5L225,567.2L224.5,568L224,568.8L223.5,569.5L223.1,570.3L222.7,571.1L222.3,572L222,572.8L221.7,573.6L221.4,574.4L221.1,575.2L220.9,576.1L220.7,576.9L220.5,577.7L220.4,578.5L220.3,579.3L220.2,580L220.1,580.8L220.1,581.5L220.2,582.3L220.2,583L220.3,583.6L220.4,584.3L220.6,584.9L220.8,585.5L221,586.1L221.2,586.6L221.5,587.1L221.8,587.6L222.1,588L222.5,588.4L222.9,588.8L223.3,589.1L223.8,589.4L232,594.1L232.4,594.3L232.9,594.5L233.4,594.7L234,594.8L234.5,594.9L235.1,594.9L235.6,594.9L236.2,594.9L236.8,594.8L237.4,594.6L238,594.4L238.7,594.2L239.3,594L239.9,593.7L240.6,593.3L241.2,592.9L241.8,592.5L242.5,592.1L243.1,591.6L243.7,591.1L244.3,590.5L244.9,589.9L245.5,589.3L246.1,588.7L246.7,588L247.2,587.3L247.8,586.6L248.3,585.9L248.8,585.2L249.2,584.4L249.7,583.6L250.1,582.8L250.5,582L250.9,581.2L251.2,580.4L251.6,579.6L251.9,578.7L252.1,577.9L252.4,577.1L252.6,576.3L252.7,575.5L252.9,574.7L253,573.9L253,573.1L253.1,572.4L253.1,571.6L253.1,570.9L253,570.2L252.9,569.5L252.8,568.9L252.6,568.2L252.5,567.7L252.2,567.1L252,566.5L251.7,566L251.4,565.6L251.1,565.1L250.7,564.8L250.3,564.4L249.9,564.1L249.5,563.8Z"/>
<ellipse class="l" cx="232.5" cy="574.2" rx="17.5" ry="10.1" transform="rotate(-60 232.5 574.2)"/>
<path class="l" d="M231.8,591.2A17.5,10.1 -60 0 1 238.2,560"/>
<ellipse class="w" cx="240.7" cy="579" rx="17.5" ry="10.1" transform="rotate(-60 240.7 579)"/>
<ellipse class="h" cx="240.7" cy="579" rx="13.5" ry="7.8" transform="rotate(-60 240.7 579)"/>
<ellipse class="h" cx="240.1" cy="578.7" rx="11.5" ry="6.6" transform="rotate(-60 240.1 578.7)"/>
<path class="l" d="M232.1,576.1A10.5,6.1 -60 1 1 242.5,582.1"/>
<path class="l" d="M231.5,573.6A9.5,5.5 -60 0 1 241,579.1"/>
<path d="M165.5,568.5L207,592.3 M210,594L231,605.2" fill="none" stroke="#000" stroke-width="1.2" stroke-dasharray="7 3.5"/>
<path class="l" d="M233,606.3L247,614.5"/>
<path class="w" d="M302.9,566.7L301.7,566L300.4,565.5L299.1,565.1L297.7,564.8L296.3,564.6L294.8,564.5L293.3,564.5L291.8,564.7L290.2,564.9L288.6,565.3L287,565.8L285.3,566.3L283.7,567L282,567.8L280.3,568.7L278.7,569.7L277,570.8L275.3,572L273.7,573.3L272,574.6L270.4,576.1L268.8,577.6L267.3,579.2L265.7,580.9L264.3,582.6L262.8,584.4L261.4,586.3L260.1,588.2L258.8,590.2L257.5,592.2L256.3,594.3L255.2,596.3L254.2,598.5L253.2,600.6L252.2,602.7L251.4,604.9L250.6,607.1L249.9,609.2L249.3,611.4L248.8,613.5L248.4,615.6L248,617.7L247.7,619.8L247.5,621.8L247.4,623.8L247.4,625.8L247.4,627.7L247.6,629.5L247.8,631.3L248.2,633L248.6,634.6L249,636.2L249.6,637.7L250.3,639.1L251,640.4L251.8,641.6L252.7,642.8L253.6,643.8L254.7,644.8L255.7,645.6L256.9,646.3L276.6,657.7L277.8,658.3L279,658.8L280.4,659.3L281.7,659.6L283.2,659.8L284.6,659.8L286.1,659.8L287.7,659.7L289.3,659.4L290.9,659.1L292.5,658.6L294.1,658L295.8,657.3L297.5,656.5L299.1,655.6L300.8,654.6L302.5,653.6L304.1,652.4L305.8,651.1L307.4,649.7L309,648.3L310.6,646.8L312.2,645.2L313.7,643.5L315.2,641.7L316.6,639.9L318,638L319.4,636.1L320.7,634.2L321.9,632.1L323.1,630.1L324.3,628L325.3,625.9L326.3,623.8L327.2,621.6L328.1,619.5L328.8,617.3L329.5,615.1L330.1,613L330.7,610.8L331.1,608.7L331.5,606.6L331.7,604.6L331.9,602.5L332.1,600.5L332.1,598.6L332,596.7L331.9,594.8L331.6,593.1L331.3,591.4L330.9,589.7L330.4,588.1L329.8,586.7L329.2,585.3L328.5,583.9L327.7,582.7L326.8,581.6L325.8,580.5L324.8,579.6L323.7,578.7L322.6,578Z"/>
<ellipse class="l" cx="279.9" cy="606.5" rx="46" ry="26.5" transform="rotate(-60 279.9 606.5)"/>
<path class="l" d="M268.1,649.7A46,26.5 -60 1 1 298.2,565.8"/>
<ellipse class="w" cx="299.6" cy="617.9" rx="46" ry="26.5" transform="rotate(-60 299.6 617.9)"/>
<clipPath id="ringclip"><ellipse cx="300.2" cy="618" rx="38" ry="21.9" transform="rotate(-60 300.2 618)"/></clipPath>
<ellipse class="l" cx="300.2" cy="618" rx="38" ry="21.9" transform="rotate(-60 300.2 618)"/>
<path class="t" d="M292.2,590.2A40.5,23.4 -60 1 1 292.2,654.1"/>
<g clip-path="url(#ringclip)"><ellipse class="l" cx="280.9" cy="607.1" rx="38" ry="21.9" transform="rotate(-60 280.9 607.1)"/>
<ellipse class="t" cx="284.9" cy="609.5" rx="38" ry="21.9" transform="rotate(-60 284.9 609.5)"/>
</g>
<path class="l" d="M277.1,633.8L300,647"/>
<path class="w" d="M343.2,625.4L342.9,625.2L342.5,625.1L342,624.9L341.6,624.9L341.2,624.8L340.7,624.8L340.2,624.8L339.7,624.8L339.2,624.9L338.7,625L338.2,625.2L337.7,625.3L337.2,625.6L336.7,625.8L336.1,626.1L335.6,626.4L335.1,626.7L334.6,627.1L334,627.5L333.5,627.9L333,628.4L332.5,628.9L332,629.4L331.5,629.9L331.1,630.5L330.6,631L330.2,631.6L329.7,632.2L329.3,632.9L328.9,633.5L328.6,634.1L328.2,634.8L327.9,635.5L327.6,636.1L327.3,636.8L327,637.5L326.8,638.2L326.6,638.9L326.4,639.5L326.2,640.2L326.1,640.9L325.9,641.5L325.9,642.2L325.8,642.8L325.8,643.5L325.8,644.1L325.8,644.7L325.8,645.3L325.9,645.8L326,646.4L326.1,646.9L326.3,647.4L326.5,647.8L326.7,648.3L326.9,648.7L327.1,649.1L327.4,649.4L327.7,649.8L328,650.1L328.4,650.3L328.8,650.6L333.5,653.3L333.9,653.5L334.3,653.7L334.7,653.8L335.1,653.9L335.6,654L336.1,654L336.5,654L337,653.9L337.5,653.9L338,653.7L338.5,653.6L339.1,653.4L339.6,653.2L340.1,652.9L340.6,652.7L341.2,652.3L341.7,652L342.2,651.6L342.7,651.2L343.2,650.8L343.8,650.3L344.3,649.9L344.7,649.4L345.2,648.8L345.7,648.3L346.1,647.7L346.6,647.1L347,646.5L347.4,645.9L347.8,645.3L348.2,644.6L348.5,644L348.9,643.3L349.2,642.6L349.5,641.9L349.7,641.3L350,640.6L350.2,639.9L350.4,639.2L350.6,638.5L350.7,637.9L350.8,637.2L350.9,636.6L351,635.9L351,635.3L351,634.7L351,634.1L350.9,633.5L350.9,632.9L350.8,632.4L350.6,631.9L350.5,631.4L350.3,630.9L350.1,630.5L349.9,630.1L349.6,629.7L349.3,629.3L349,629L348.7,628.7L348.4,628.4L348,628.2Z"/>
<ellipse class="l" cx="336" cy="638" rx="14.5" ry="8.4" transform="rotate(-60 336 638)"/>
<ellipse class="w" cx="340.8" cy="640.8" rx="14.5" ry="8.4" transform="rotate(-60 340.8 640.8)"/>
<ellipse class="h" cx="340.3" cy="640.5" rx="11" ry="6.3" transform="rotate(-60 340.3 640.5)"/>
<ellipse class="h" cx="340" cy="640.2" rx="8.5" ry="4.9" transform="rotate(-60 340 640.2)"/>
<ellipse class="h" cx="339.8" cy="640.1" rx="6" ry="3.5" transform="rotate(-60 339.8 640.1)"/>
<ellipse class="l" cx="339.8" cy="640.4" rx="3.5" ry="2" transform="rotate(-60 339.8 640.4)"/>
<path class="w" d="M365,639.4L364.6,639.2L364.2,639L363.8,638.9L363.4,638.8L363,638.7L362.5,638.7L362.1,638.7L361.6,638.8L361.1,638.8L360.6,639L360.2,639.1L359.7,639.3L359.1,639.5L358.6,639.7L358.1,640L357.6,640.3L357.1,640.6L356.6,641L356.1,641.4L355.6,641.8L355.1,642.2L354.6,642.7L354.2,643.2L353.7,643.7L353.2,644.2L352.8,644.8L352.4,645.4L352,645.9L351.6,646.5L351.2,647.2L350.8,647.8L350.5,648.4L350.2,649.1L349.9,649.7L349.6,650.4L349.3,651L349.1,651.7L348.9,652.3L348.7,653L348.5,653.6L348.4,654.3L348.3,654.9L348.2,655.5L348.1,656.2L348.1,656.8L348.1,657.4L348.1,657.9L348.2,658.5L348.2,659L348.3,659.6L348.5,660.1L348.6,660.5L348.8,661L349,661.4L349.2,661.8L349.4,662.2L349.7,662.5L350,662.9L350.3,663.1L350.6,663.4L351,663.6L354,665.4L354.4,665.6L354.8,665.7L355.2,665.9L355.6,665.9L356,666L356.5,666L356.9,666L357.4,666L357.9,665.9L358.4,665.8L358.9,665.6L359.4,665.5L359.9,665.3L360.4,665L360.9,664.8L361.4,664.4L361.9,664.1L362.4,663.8L362.9,663.4L363.4,663L363.9,662.5L364.4,662L364.9,661.6L365.3,661L365.8,660.5L366.2,660L366.7,659.4L367.1,658.8L367.5,658.2L367.8,657.6L368.2,657L368.5,656.3L368.9,655.7L369.2,655L369.4,654.4L369.7,653.7L369.9,653.1L370.1,652.4L370.3,651.8L370.5,651.1L370.6,650.5L370.7,649.8L370.8,649.2L370.9,648.6L370.9,648L370.9,647.4L370.9,646.8L370.9,646.2L370.8,645.7L370.7,645.2L370.6,644.7L370.4,644.2L370.2,643.8L370,643.3L369.8,642.9L369.6,642.6L369.3,642.2L369,641.9L368.7,641.6L368.4,641.3L368,641.1Z"/>
<ellipse class="l" cx="358" cy="651.5" rx="14" ry="8.1" transform="rotate(-60 358 651.5)"/>
<ellipse class="w" cx="361" cy="653.2" rx="14" ry="8.1" transform="rotate(-60 361 653.2)"/>
<ellipse class="h" cx="361" cy="653.2" rx="8.5" ry="4.9" transform="rotate(-60 361 653.2)"/>
<ellipse class="h" cx="360.5" cy="653" rx="5.5" ry="3.2" transform="rotate(-60 360.5 653)"/>
<path class="l" d="M356.5,650.7A7,4 -60 0 1 363.5,654.8"/>
</g>
<!-- ===== LOWER TIRE ===== -->
<g id="tire-low">
<path class="f" d="M398.6,647.1C395.8,643.5 386.8,631.1 382.2,625.3C377.7,619.6 374.1,617.2 371.3,612.6C368.6,608.1 367.1,602.6 365.9,598.1C364.7,593.6 364.1,589.3 364.1,585.4C364.1,581.5 364.8,577.5 365.9,574.5C367,571.5 368.2,569.5 370.4,567.2C372.7,565 376,562.5 379.5,560.9C383,559.2 387.8,558.6 391.3,557.2C394.8,555.9 397.4,553.5 400.4,552.7C403.4,551.9 405.7,552.2 409.5,552.3C413.2,552.5 418.8,553.1 423.1,553.6C427.3,554.1 431.9,554.4 434.9,555.4C437.9,556.5 438.8,558.5 441.2,560C443.7,561.5 446.8,563.3 449.4,564.5C452,565.7 454.2,565.9 456.7,567.2C459.1,568.6 461.3,569.7 463.9,572.7C466.6,575.6 469.3,579.9 472.6,585C475.9,590.1 480.5,597 483.5,603C486.5,609 489,615.2 490.8,621.3C492.6,627.4 493.7,634.2 494.4,639.4C495.1,644.6 495,648.6 494.9,652.6C494.8,656.6 494.7,658.7 494,663.6C493.3,668.5 492.2,676 490.8,681.8C489.4,687.5 487.4,693 485.3,698.1C483.2,703.2 480.8,708.1 478.1,712.6C475.4,717.1 472.3,721.1 469,725.3C465.7,729.5 462,734.1 458.1,738C454.2,741.9 449.7,745.5 445.4,748.9C441.1,752.3 437.4,755.2 432.5,758.5C427.6,761.8 422.1,765.7 416.2,768.5C410.3,771.3 403.5,773.5 397.1,775.3C390.7,777.1 383.9,778.6 378,779.4C372.1,780.2 367.1,780.9 361.7,780.2C356.3,779.5 350.8,777.7 345.4,775.3C339.9,772.9 334.4,769.9 329,765.8C323.6,761.7 317.7,756.5 312.7,750.8C307.7,745.1 302.5,738.1 299.1,731.7C295.7,725.4 293.7,718.1 292.3,712.7C290.9,707.3 290.6,702.1 290.9,699.1C291.2,696.1 292,696.9 294.2,694.8C296.4,692.7 299.9,688.5 303.9,686.3C307.9,684.1 313.6,682.5 318.4,681.5C323.3,680.5 327.7,679.9 332.9,680.3C338.2,680.7 343.6,682.7 349.9,683.9C356.1,685.1 367,686.9 370.5,687.5L398.6,647Z"/>
<path class="l" style="stroke-width:1.6" d="M398.6,647.1C395.8,643.5 386.8,631.1 382.2,625.3C377.7,619.6 374.1,617.2 371.3,612.6C368.6,608.1 367.1,602.6 365.9,598.1C364.7,593.6 364.1,589.3 364.1,585.4C364.1,581.5 364.8,577.5 365.9,574.5C367,571.5 368.2,569.5 370.4,567.2C372.7,565 376,562.5 379.5,560.9C383,559.2 387.8,558.6 391.3,557.2C394.8,555.9 397.4,553.5 400.4,552.7C403.4,551.9 405.7,552.2 409.5,552.3C413.2,552.5 418.8,553.1 423.1,553.6C427.3,554.1 431.9,554.4 434.9,555.4C437.9,556.5 438.8,558.5 441.2,560C443.7,561.5 446.8,563.3 449.4,564.5C452,565.7 454.2,565.9 456.7,567.2C459.1,568.6 461.3,569.7 463.9,572.7C466.6,575.6 469.3,579.9 472.6,585C475.9,590.1 480.5,597 483.5,603C486.5,609 489,615.2 490.8,621.3C492.6,627.4 493.7,634.2 494.4,639.4C495.1,644.6 495,648.6 494.9,652.6C494.8,656.6 494.7,658.7 494,663.6C493.3,668.5 492.2,676 490.8,681.8C489.4,687.5 487.4,693 485.3,698.1C483.2,703.2 480.8,708.1 478.1,712.6C475.4,717.1 472.3,721.1 469,725.3C465.7,729.5 462,734.1 458.1,738C454.2,741.9 449.7,745.5 445.4,748.9C441.1,752.3 437.4,755.2 432.5,758.5C427.6,761.8 422.1,765.7 416.2,768.5C410.3,771.3 403.5,773.5 397.1,775.3C390.7,777.1 383.9,778.6 378,779.4C372.1,780.2 367.1,780.9 361.7,780.2C356.3,779.5 350.8,777.7 345.4,775.3C339.9,772.9 334.4,769.9 329,765.8C323.6,761.7 317.7,756.5 312.7,750.8C307.7,745.1 302.5,738.1 299.1,731.7C295.7,725.4 293.7,718.1 292.3,712.7C290.9,707.3 290.6,702.1 290.9,699.1C291.2,696.1 292,696.9 294.2,694.8C296.4,692.7 299.9,688.5 303.9,686.3C307.9,684.1 313.6,682.5 318.4,681.5C323.3,680.5 327.7,679.9 332.9,680.3C338.2,680.7 343.6,682.7 349.9,683.9C356.1,685.1 367,686.9 370.5,687.5"/>
<path class="h" d="M453.2,634.8C454.7,636.9 460.1,642.6 462.1,647.5C464.1,652.5 464.8,658.5 465.3,664.5C465.7,670.5 466,677.2 464.9,683.5C463.7,689.9 461.5,696.6 458.5,702.6C455.5,708.6 450.8,715.5 446.8,719.6C442.9,723.6 438.3,724.6 434.7,726.7C431.2,728.9 429.2,730.4 425.6,732.3C422.1,734.3 417.6,737 413.5,738.4C409.5,739.7 405.2,740.8 401.4,740.3C397.7,739.9 394,737.8 390.8,735.8C387.7,733.8 384.8,731.4 382.5,728.2C380.2,725.1 378.3,720.3 376.9,716.9C375.5,713.5 374.7,709.3 374.2,707.8"/>
<path class="l" d="M450.7,635.9C452.1,638 457.2,643.8 459.1,648.6C461.1,653.4 461.8,658.7 462.3,664.5C462.8,670.3 463,677.4 461.9,683.5C460.8,689.7 458.7,695.8 455.7,701.6C452.8,707.3 448.2,713.8 444.3,717.9C440.4,721.9 435.8,723.5 432.5,725.7C429.1,727.8 427.4,729 424.1,730.8C420.9,732.6 416.6,735.3 412.8,736.6C409,737.8 405,738.8 401.4,738.4C397.9,738 394.6,736 391.6,734.1C388.6,732.3 385.8,730.1 383.6,727.2C381.3,724.3 379.5,720 378.1,716.9C376.8,713.8 375.9,710 375.4,708.6"/>
<path class="l" d="M447.3,636.9C448.8,639.1 454.3,645.3 456.4,650.1C458.4,654.8 459.1,660 459.6,665.5C460,671.1 460.2,677.7 459.1,683.5C458.1,689.4 458,694.3 453.2,700.9C448.4,707.5 435.8,718.4 430.2,723.3C424.6,728.1 423.4,728.2 419.6,730.2C415.8,732.2 410.5,734.3 407.5,735.4C404.5,736.4 404,736.9 401.4,736.6C398.9,736.2 395,735.1 392.1,733.2C389.1,731.4 386.2,728.5 383.9,725.7C381.6,722.8 379.3,717.9 378.4,716.3"/>
<path class="l" d="M441.6,639.1C443.1,641.2 448.9,647 451.1,651.8C453.2,656.5 454,662.4 454.5,667.7C454.9,673 454.9,677.9 453.8,683.5C452.7,689.2 452.6,695.2 447.9,701.6C443.2,707.9 431.2,717 425.6,721.4C420,725.9 418.1,726.4 414.3,728.2C410.5,730.1 406.5,732.5 403,732.8C399.4,733.1 395.8,731.9 392.8,730.2C389.8,728.6 387.2,725.4 385.1,723C383,720.5 381.1,716.9 380.3,715.7"/>
<path class="l" d="M432,643.3C434.1,646.1 442.2,655 444.3,660.2C446.4,665.5 445.2,669.8 444.7,675.1C444.3,680.4 443.7,686.4 441.6,692C439.4,697.7 435.2,704.6 432,709C428.9,713.4 425.7,715.7 422.6,718.4C419.5,721.1 416.8,723.3 413.5,725.2C410.3,727.1 406.4,729.3 403,729.8C399.5,730.3 396,729.5 393.1,728.2C390.2,727 387.6,724.3 385.6,722.2C383.5,720.1 381.8,716.5 381,715.4"/>
<path class="l" d="M380.3,715.1C381.5,715.6 384.8,718.1 387.8,718.4C390.8,718.8 395.1,718.2 398.4,717.2C401.7,716.2 404.7,714.3 407.5,712.4C410.3,710.4 413.8,706.7 415.1,705.6"/>
<path class="t" d="M434.1,645.4C435,647.9 438.7,655 439.4,660.2C440.2,665.5 440,671.5 438.8,677.2C437.6,682.8 433.1,691.3 432,694.1"/>
<path class="h" d="M418.3,655C418.5,656.5 420.1,661.1 419.9,664.5C419.8,667.8 418.9,671.5 417.2,675.1C415.5,678.6 412.6,682.7 409.8,685.7C407,688.7 403.2,691.3 400.2,693.1C397.2,694.8 394.4,696.1 391.8,696.3C389.1,696.4 386.3,695.4 384.4,694.1C382.4,692.9 380.8,689.7 380.1,688.8"/>
<path class="l" d="M419.9,655.6C420.2,657.1 421.8,661.5 421.6,664.9C421.5,668.3 420.6,672.2 418.9,675.9C417.2,679.6 414.2,683.8 411.3,686.9C408.3,690 404.3,692.7 401.1,694.6C397.8,696.4 393.3,697.4 391.8,697.9"/>
<ellipse class="l" cx="401.3" cy="705.8" rx="1.8" ry="1" transform="rotate(-60 401.3 705.8)"/>
<ellipse class="l" cx="428.2" cy="662.4" rx="1.8" ry="1" transform="rotate(-60 428.2 662.4)"/>
<path class="l" d="M374.1,603.9C375.4,603.5 379.4,602.2 382.2,601.7C385.1,601.2 388.1,600.8 391.3,600.8C394.5,600.9 399.6,601.9 401.3,602.1"/>
<path class="l" d="M376.8,613C379.2,612.5 386.8,610.3 391.3,609.9C395.8,609.5 400.6,609.7 404,610.8C407.4,611.9 410.4,615.6 411.6,616.6"/>
<path class="l" d="M385.9,625.3C387.7,624.9 393.1,622.6 396.8,622.6C400.4,622.6 404.9,624.1 407.7,625.3C410.4,626.5 412.2,629.1 413.1,629.9"/>
<path class="h" d="M375,571.8C375.6,571.4 376.6,570.1 379,569.4C381.3,568.7 385.6,567.1 389,567.6C392.3,568.1 395.6,570 398.9,572.1C402.3,574.3 405.7,577.1 408.9,580.3C412.1,583.5 415.4,587.4 418,591.2C420.6,595 422.8,599 424.4,603C425.9,607 426.9,611.3 427.4,615C428,618.7 428,622.1 427.6,625.3C427.3,628.6 425.8,632.9 425.4,634.4"/>
<path class="h" d="M421.8,631.7C422.1,630.3 423.2,626.3 423.6,623.5C424.1,620.7 424.5,618.1 424.4,615C424.2,611.9 423.9,608.6 422.5,604.8C421.2,601 418.8,596 416.2,592.1C413.6,588.2 410.4,584.2 407.1,581.2C403.8,578.2 400.1,575.8 396.2,574.3C392.3,572.8 387.1,572 383.5,572.1C379.9,572.2 376.8,573.2 374.4,574.9C372.1,576.5 370.4,579.2 369.3,582.1C368.3,585 368,588.3 368.1,592.1C368.2,595.9 369,601 369.9,604.8C370.8,608.6 371.5,611.9 373.5,615C375.6,618.1 378.8,620.3 382.2,623.5C385.7,626.8 392.1,632.6 394,634.4"/>
<path class="h" d="M367.7,599.9C368.2,601.7 368.6,607.8 370.4,610.8C372.2,613.8 376.3,615.3 378.6,618.1C380.9,620.8 381.9,624.7 384,627.1C386.2,629.6 389,631.2 391.3,632.6C393.6,634 396.2,633.8 397.7,635.3C399.2,636.8 400.4,639.4 400.4,641.7C400.4,643.9 398.1,647.7 397.7,648.9"/>
<path class="h" style="stroke-width:2.4" d="M397.6,636.9C398.3,637.5 401.3,639.2 401.5,640.7C401.6,642.2 398.9,644.3 398.7,645.9C398.6,647.4 399.1,649.5 400.4,650C401.7,650.4 404.9,649.5 406.6,648.6C408.4,647.7 409.1,644.7 410.7,644.5C412.3,644.3 414.6,645.9 416.2,647.2C417.8,648.6 419.6,651.8 420.3,652.7"/>
<path class="h" d="M403.9,639.1C404.8,638.7 407.3,636.9 409.4,636.9C411.4,636.9 414.1,639.2 416.2,639.1C418.2,639 420.7,636.8 421.6,636.3"/>
<path class="l" d="M408,625.4C408.7,626.4 410.7,629.3 412.1,630.9C413.4,632.5 415.5,634.3 416.2,635 M416.2,622.7C416.4,623.9 416.6,627.7 417.5,629.5C418.4,631.3 420.9,632.9 421.6,633.6"/>
<path class="l" d="M417.2,641.2C418.6,640.5 422.8,638.2 425.7,636.9C428.5,635.7 431.5,634.5 434.1,633.8C436.8,633.1 440.3,632.9 441.6,632.7"/>
<path class="l" d="M420.4,643.3C421.6,642.8 425.1,641 427.8,640.1C430.4,639.2 434.8,638.4 436.3,638"/>
<path class="wb" d="M378.2,561L384.5,561.7L384.5,564.4L378.2,563.7Z"/><path class="wb" d="M370.9,565.9L378.2,561L378.2,563.7L370.9,568.6Z"/><path class="wb" d="M384.5,561.7L377.2,567.1L377.2,569.9L384.5,564.4Z"/><path class="wb" d="M377.2,567.1L370.9,565.9L370.9,568.6L377.2,569.9Z"/><path class="wb" d="M370.9,565.9L378.2,561L384.5,561.7L377.2,567.1Z"/>
<path class="wb" d="M399,553.7L409,551.9L409,554.1L399,555.9Z"/><path class="wb" d="M409,551.9L412.7,554.1L412.7,556.3L409,554.1Z"/><path class="wb" d="M403.6,555.9L399,553.7L399,555.9L403.6,558.1Z"/><path class="wb" d="M412.7,554.1L411.7,556.3L411.7,558.4L412.7,556.3Z"/><path class="wb" d="M411.7,556.3L403.6,555.9L403.6,558.1L411.7,558.4Z"/><path class="wb" d="M399,553.7L409,551.9L412.7,554.1L411.7,556.3L403.6,555.9Z"/>
<path class="wb" d="M399,556.3L405.4,558.1L405.4,561.3L399,559.5Z"/><path class="wb" d="M387.2,562.2L399,556.3L399,559.5L387.2,565.5Z"/><path class="wb" d="M405.4,558.1L393.6,564.6L393.6,567.9L405.4,561.3Z"/><path class="wb" d="M393.6,564.6L387.2,562.2L387.2,565.5L393.6,567.9Z"/><path class="wb" d="M387.2,562.2L399,556.3L405.4,558.1L393.6,564.6Z"/>
<path class="wb" d="M395.4,568.6L402.7,566.4L402.7,570.1L395.4,572.2Z"/><path class="wb" d="M402.7,566.4L407.2,569.5L407.2,573.1L402.7,570.1Z"/><path class="wb" d="M400.3,572.2L395.4,568.6L395.4,572.2L400.3,575.9Z"/><path class="wb" d="M407.2,569.5L400.3,572.2L400.3,575.9L407.2,573.1Z"/><path class="wb" d="M395.4,568.6L402.7,566.4L407.2,569.5L400.3,572.2Z"/>
<path class="wb" d="M422.6,553.7L436.3,556.3L436.3,558.1L422.6,555.5Z"/><path class="wb" d="M426.3,557.7L422.6,553.7L422.6,555.5L426.3,559.5Z"/><path class="wb" d="M436.3,556.3L439.9,559.5L439.9,561.3L436.3,558.1Z"/><path class="wb" d="M439.9,559.5L426.3,557.7L426.3,559.5L439.9,561.3Z"/><path class="wb" d="M422.6,553.7L436.3,556.3L439.9,559.5L426.3,557.7Z"/>
<path class="wb" d="M415.4,564.6L429.9,561.7L429.9,564.2L415.4,567.1Z"/><path class="wb" d="M429.9,561.7L434.4,564.6L434.4,567.1L429.9,564.2Z"/><path class="wb" d="M434.4,564.6L419.9,568.2L419.9,570.8L434.4,567.1Z"/><path class="wb" d="M419.9,568.2L415.4,564.6L415.4,567.1L419.9,570.8Z"/><path class="wb" d="M415.4,564.6L429.9,561.7L434.4,564.6L419.9,568.2Z"/>
<path class="wb" d="M423.5,573.7L430.8,576.2L430.8,579.1L423.5,576.6Z"/><path class="wb" d="M409.9,577.7L423.5,573.7L423.5,576.6L409.9,580.6Z"/><path class="wb" d="M430.8,576.2L417.2,580.9L417.2,583.9L430.8,579.1Z"/><path class="wb" d="M417.2,580.9L409.9,577.7L409.9,580.6L417.2,583.9Z"/><path class="wb" d="M409.9,577.7L423.5,573.7L430.8,576.2L417.2,580.9Z"/>
<path class="wb" d="M428.1,585.8L431.2,588.6L431.2,594L428.1,591.3Z"/><path class="wb" d="M418.1,589.5L428.1,585.8L428.1,591.3L418.1,594.9Z"/><path class="wb" d="M431.2,588.6L421.7,592.6L421.7,598L431.2,594Z"/><path class="wb" d="M421.7,592.6L418.1,589.5L418.1,594.9L421.7,598Z"/><path class="wb" d="M418.1,589.5L428.1,585.8L431.2,588.6L421.7,592.6Z"/>
<path class="wb" d="M443.5,565.3L454.4,564.1L454.4,565.5L443.5,566.8Z"/><path class="wb" d="M454.4,564.1L459.9,567.7L459.9,569.1L454.4,565.5Z"/><path class="wb" d="M449,569.5L443.5,565.3L443.5,566.8L449,571Z"/><path class="wb" d="M459.9,567.7L449,569.5L449,571L459.9,569.1Z"/><path class="wb" d="M443.5,565.3L454.4,564.1L459.9,567.7L449,569.5Z"/>
<path class="l" d="M290.9,699.1C291.8,700.9 293.2,706.3 296.3,710C299.5,713.6 304.5,718.2 310,720.8C315.4,723.5 322.7,725.2 329,725.8C335.4,726.3 342.2,725.6 348.1,724.1C354,722.6 359.9,719.4 364.4,716.8C369,714.2 373.5,710 375.3,708.6"/>
<path class="l" d="M293.1,695C293.8,696.8 294.7,702.2 297.7,705.9C300.7,709.5 306.1,714.2 311.3,716.8C316.5,719.4 322.9,720.8 329,721.4C335.1,721.9 342.4,721.3 348.1,720C353.8,718.8 359,716.2 363.1,714C367.1,711.9 371,708.4 372.6,707.2"/>
<path class="l" d="M294.2,693.6C295.9,692.4 300.5,688.3 304.5,686.5C308.5,684.8 313.6,683.5 318.1,683C322.7,682.5 329.5,683.2 331.7,683.3"/>
<path class="l" d="M324.9,686.8C325.4,688.9 325.6,695.2 327.7,699.1C329.7,702.9 333.3,707.5 337.2,710C341,712.5 346.3,713.8 350.8,714C355.3,714.3 361,712.5 364.4,711.3C367.8,710.2 370.1,707.9 371.2,707.2"/>
<path class="l" d="M334.5,685.4C334.9,687.3 335.4,692.9 337.2,696.3C339,699.7 342,703.8 345.4,705.9C348.8,707.9 353.8,708.6 357.6,708.6C361.5,708.6 366.7,706.3 368.5,705.9"/>
<path class="l" d="M344,685.4C344.5,687 345.1,692.3 346.7,695C348.3,697.7 350.6,700.4 353.5,701.8C356.5,703.1 362.6,702.9 364.4,703.1"/>
<path class="l" d="M352.2,686.8C352.8,688.2 354.2,692.8 356.3,695C358.3,697.1 363.1,698.8 364.4,699.6"/>
<path class="l" d="M360.3,688.2C361,689.3 363.1,693.4 364.4,695C365.8,696.6 367.8,697.2 368.5,697.7"/>
<path class="h" style="stroke-width:2.2" d="M331.7,682.7C333.6,682.6 339.5,681.8 342.6,682.2C345.8,682.5 347.6,684.1 350.8,684.9C354,685.7 358.5,686 361.7,686.8C364.9,687.6 367.8,689.4 369.9,689.5C371.9,689.7 372.5,688.1 374,687.6C375.4,687.1 377.3,686.1 378.6,686.5C379.9,687 381.6,689.2 381.6,690.3C381.6,691.5 379.8,692.6 378.6,693.6C377.4,694.6 374.8,694.5 374.2,696.3C373.7,698.2 374.9,702.4 375.3,704.5C375.8,706.6 376.7,708.1 376.9,708.9"/>
<path class="l" d="M369.9,690.9C370.1,692.3 370.7,696.3 371.2,699.1C371.8,701.8 372.8,705.9 373.1,707.2"/>
<path class="l" d="M376.5,708.6C377,710.2 378,715.5 379.5,718.4C381,721.4 383.2,724.1 385.6,726.3C387.9,728.4 392.5,730.4 393.9,731.3"/>
<path class="l" d="M512.6,606.7L416.3,642.1 M513.5,629.4L468.1,654.8 M252,710L291.5,714"/>
<path class="l" d="M402.5,706.5L470,744.5"/>
</g>
<!-- ===== SMALL PARTS BOTTOM RIGHT ===== -->
<g id="small">
<path class="l" d="M508.7,698.6L494.1,722.8 M526.3,709.5L512.3,731.3 M546.7,719.2L531.7,740 M473.6,756.6L463.9,780.8 M498.3,768.7L488.1,790.5"/>
<path class="wb" d="M493.8,716.3L493.4,716.2L493.1,716.1L492.8,715.9L492.5,715.9L492.1,715.8L491.7,715.8L491.4,715.8L491,715.8L490.6,715.9L490.2,716L489.8,716.1L489.4,716.3L488.9,716.4L488.5,716.6L488.1,716.9L487.7,717.1L487.3,717.4L486.9,717.7L486.4,718L486,718.3L485.6,718.7L485.2,719.1L484.8,719.5L484.5,719.9L484.1,720.3L483.7,720.8L483.4,721.3L483,721.7L482.7,722.2L482.4,722.7L482.1,723.2L481.8,723.8L481.6,724.3L481.3,724.8L481.1,725.4L480.9,725.9L480.7,726.4L480.5,727L480.4,727.5L480.2,728.1L480.1,728.6L480,729.1L480,729.6L479.9,730.1L479.9,730.6L479.9,731.1L479.9,731.6L479.9,732.1L480,732.5L480.1,732.9L480.2,733.3L480.3,733.7L480.4,734.1L480.6,734.4L480.8,734.8L481,735.1L481.2,735.4L481.4,735.6L481.7,735.9L482,736.1L482.2,736.3L487,739L487.3,739.2L487.6,739.3L488,739.4L488.3,739.5L488.7,739.5L489,739.5L489.4,739.5L489.8,739.5L490.2,739.4L490.6,739.4L491,739.2L491.4,739.1L491.8,738.9L492.2,738.7L492.7,738.5L493.1,738.2L493.5,738L493.9,737.7L494.3,737.4L494.7,737L495.1,736.7L495.5,736.3L495.9,735.9L496.3,735.5L496.7,735L497,734.6L497.4,734.1L497.7,733.6L498,733.1L498.4,732.6L498.7,732.1L498.9,731.6L499.2,731.1L499.4,730.5L499.7,730L499.9,729.5L500.1,728.9L500.3,728.4L500.4,727.8L500.5,727.3L500.6,726.8L500.7,726.2L500.8,725.7L500.9,725.2L500.9,724.7L500.9,724.2L500.9,723.8L500.8,723.3L500.8,722.9L500.7,722.4L500.6,722L500.5,721.6L500.3,721.3L500.2,720.9L500,720.6L499.8,720.3L499.6,720L499.3,719.7L499.1,719.5L498.8,719.3L498.5,719.1Z"/>
<ellipse class="l" cx="488" cy="726.3" rx="11.5" ry="6.6" transform="rotate(-60 488 726.3)"/>
<ellipse class="wb" cx="492.8" cy="729" rx="11.5" ry="6.6" transform="rotate(-60 492.8 729)"/>
<ellipse class="h" cx="492.8" cy="729" rx="7.5" ry="4.3" transform="rotate(-60 492.8 729)"/>
<path class="l" d="M493.2,731.9A6.5,3.8 -60 1 1 492.5,722.4"/>
<path class="wb" d="M512.2,728.7L512,728.6L511.7,728.4L511.4,728.3L511.1,728.3L510.7,728.2L510.4,728.2L510.1,728.2L509.7,728.3L509.4,728.3L509,728.4L508.6,728.5L508.2,728.6L507.9,728.8L507.5,729L507.1,729.2L506.7,729.4L506.3,729.6L506,729.9L505.6,730.2L505.2,730.5L504.8,730.9L504.5,731.2L504.1,731.6L503.8,732L503.4,732.4L503.1,732.8L502.8,733.2L502.5,733.6L502.2,734.1L501.9,734.5L501.6,735L501.4,735.5L501.1,736L500.9,736.5L500.7,736.9L500.5,737.4L500.3,737.9L500.2,738.4L500,738.9L499.9,739.4L499.8,739.9L499.7,740.4L499.7,740.8L499.6,741.3L499.6,741.8L499.6,742.2L499.6,742.6L499.6,743.1L499.7,743.5L499.8,743.8L499.8,744.2L500,744.6L500.1,744.9L500.2,745.2L500.4,745.5L500.6,745.8L500.8,746.1L501,746.3L501.2,746.5L501.5,746.7L501.8,746.9L503,747.6L503.3,747.8L503.6,747.9L503.9,748L504.2,748.1L504.6,748.1L504.9,748.1L505.2,748.1L505.6,748.1L505.9,748L506.3,748L506.7,747.8L507.1,747.7L507.4,747.6L507.8,747.4L508.2,747.2L508.6,746.9L509,746.7L509.3,746.4L509.7,746.1L510.1,745.8L510.5,745.5L510.8,745.1L511.2,744.8L511.5,744.4L511.9,744L512.2,743.6L512.5,743.2L512.8,742.7L513.1,742.3L513.4,741.8L513.7,741.3L513.9,740.9L514.2,740.4L514.4,739.9L514.6,739.4L514.8,738.9L515,738.4L515.1,737.9L515.3,737.4L515.4,737L515.5,736.5L515.6,736L515.6,735.5L515.7,735.1L515.7,734.6L515.7,734.2L515.7,733.7L515.7,733.3L515.6,732.9L515.5,732.5L515.5,732.1L515.3,731.8L515.2,731.4L515.1,731.1L514.9,730.8L514.7,730.5L514.5,730.3L514.3,730L514.1,729.8L513.8,729.6L513.5,729.5Z"/>
<ellipse class="wb" cx="508.3" cy="738.5" rx="10.5" ry="6.1" transform="rotate(-60 508.3 738.5)"/>
<ellipse class="h" cx="508.3" cy="738.5" rx="4.2" ry="2.4" transform="rotate(-60 508.3 738.5)"/>
<ellipse class="l" cx="508.3" cy="738.5" rx="2" ry="1.2" transform="rotate(-60 508.3 738.5)"/>
<path class="wb" d="M528.1,737.9L527.8,737.8L527.6,737.7L527.3,737.6L527,737.5L526.7,737.5L526.3,737.5L526,737.5L525.7,737.5L525.3,737.6L525,737.6L524.6,737.7L524.3,737.9L523.9,738L523.6,738.2L523.2,738.4L522.8,738.6L522.5,738.8L522.1,739.1L521.7,739.4L521.4,739.7L521,740L520.7,740.3L520.4,740.7L520,741L519.7,741.4L519.4,741.8L519.1,742.2L518.8,742.6L518.5,743.1L518.2,743.5L518,743.9L517.7,744.4L517.5,744.9L517.3,745.3L517.1,745.8L516.9,746.3L516.7,746.7L516.6,747.2L516.5,747.7L516.3,748.1L516.2,748.6L516.2,749L516.1,749.5L516.1,749.9L516,750.4L516,750.8L516,751.2L516.1,751.6L516.1,752L516.2,752.4L516.3,752.7L516.4,753.1L516.5,753.4L516.7,753.7L516.8,754L517,754.2L517.2,754.5L517.4,754.7L517.6,754.9L517.8,755.1L518.1,755.3L522.4,757.8L522.7,757.9L523,758L523.3,758.1L523.6,758.2L523.9,758.2L524.2,758.2L524.5,758.2L524.8,758.2L525.2,758.1L525.5,758.1L525.9,758L526.3,757.8L526.6,757.7L527,757.5L527.3,757.3L527.7,757.1L528.1,756.9L528.4,756.6L528.8,756.3L529.1,756L529.5,755.7L529.8,755.4L530.2,755L530.5,754.7L530.8,754.3L531.1,753.9L531.4,753.5L531.7,753.1L532,752.6L532.3,752.2L532.6,751.8L532.8,751.3L533,750.8L533.2,750.4L533.4,749.9L533.6,749.4L533.8,749L533.9,748.5L534.1,748L534.2,747.6L534.3,747.1L534.4,746.7L534.4,746.2L534.5,745.8L534.5,745.3L534.5,744.9L534.5,744.5L534.5,744.1L534.4,743.7L534.3,743.3L534.2,743L534.1,742.6L534,742.3L533.9,742L533.7,741.7L533.5,741.5L533.3,741.2L533.1,741L532.9,740.8L532.7,740.6L532.4,740.4Z"/>
<ellipse class="wb" cx="527.4" cy="749.1" rx="10" ry="5.8" transform="rotate(-60 527.4 749.1)"/>
<ellipse class="h" cx="527.4" cy="749.1" rx="6" ry="3.5" transform="rotate(-60 527.4 749.1)"/>
<path d="M529.7,745.9L533.2,741.1" stroke="#000" stroke-width="2.2" fill="none"/><path d="M530,749L533.8,748.8" stroke="#000" stroke-width="2.2" fill="none"/><path d="M527.7,752.2L528,756.9" stroke="#000" stroke-width="2.2" fill="none"/><path d="M525.1,752.3L521.6,757.1" stroke="#000" stroke-width="2.2" fill="none"/><path d="M524.9,749.2L521,749.4" stroke="#000" stroke-width="2.2" fill="none"/><path d="M527.2,746L526.8,741.3" stroke="#000" stroke-width="2.2" fill="none"/><ellipse cx="527.4" cy="749.1" rx="2.2" ry="1.4" fill="#fff" stroke="#000" stroke-width="1" transform="rotate(-60 527.4 749.1)"/>
<path class="wb" style="stroke-width:2" d="M479.7,742.7L479.7,748.9L475,754.7L470.3,754.3L470.3,748.1L475,742.3Z"/>
<path class="l" d="M479.7,742.7L483.2,744.7"/><path class="l" d="M479.7,748.9L483.2,750.9"/><path class="l" d="M475,754.7L478.5,756.7"/><path class="l" d="M470.3,754.3L473.8,756.3"/><path class="l" d="M470.3,748.1L473.8,750.1"/><path class="l" d="M475,742.3L478.5,744.3"/><path class="wb" style="stroke-width:2" d="M483.2,744.7L483.2,750.9L478.5,756.7L473.8,756.3L473.8,750.1L478.5,744.3Z"/>
<ellipse class="h" cx="478.5" cy="750.5" rx="4" ry="2.3" transform="rotate(-60 478.5 750.5)"/>
<ellipse class="l" cx="478.5" cy="750.5" rx="2" ry="1.2" transform="rotate(-60 478.5 750.5)"/>
<path class="l" d="M515.9,758.5C514.1,759.2 507.7,761.7 505,762.6C502.4,763.5 501.5,763.1 500.2,763.8C498.9,764.6 497.3,766.3 497.3,767C497.3,767.7 498.9,768.3 500.2,767.9C501.5,767.6 502.4,766.3 505,765C507.7,763.8 514.1,761 515.9,760.2"/>
<path class="wb" style="stroke-width:1.7" d="M62.2,791.3L75.4,770.1L78.1,771.7L78.1,774.9L98.7,763.2L101.9,765.4L102.1,781.8L79.1,794.5L78.6,800.8Z"/>
<path class="l" style="stroke-width:1.3" d="M64.5,791.6L77.7,773.1L78.2,777.7L99.8,765.9L100,781.5 M77.7,773.1L78.1,771.7 M99.8,765.9L101.9,765.4 M64.5,791.6L62.2,791.3"/>
<text transform="translate(78.0,792.6) skewY(-29.3) scale(0.62,1)" style="font-size:14.6px;font-weight:bold;font-style:italic;stroke-width:0.5">FWD</text>
</g>
</svg>
</body></html>
